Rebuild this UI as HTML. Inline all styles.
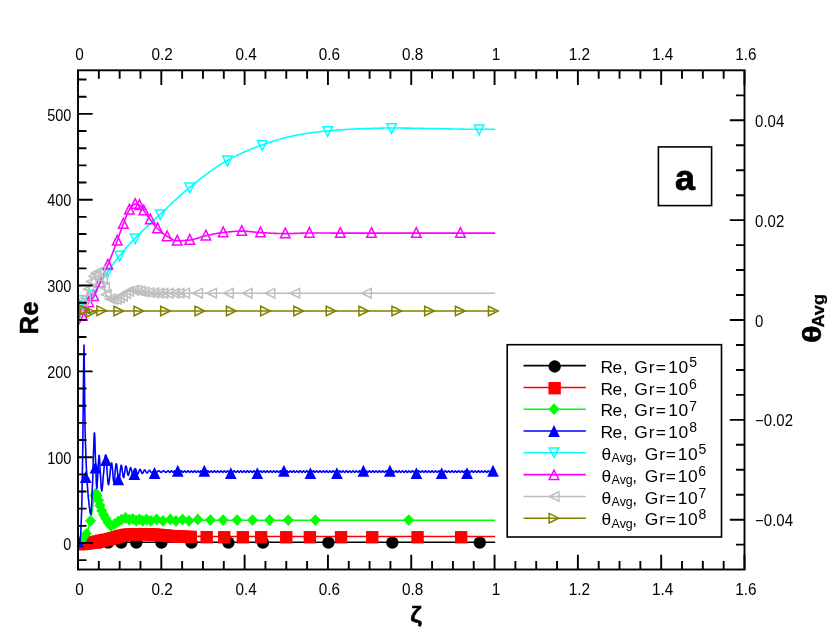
<!DOCTYPE html>
<html><head><meta charset="utf-8"><title>chart</title>
<style>html,body{margin:0;padding:0;background:#fff}svg{display:block;will-change:transform}text{font-family:"Liberation Sans",sans-serif}</style></head>
<body>
<svg width="830" height="641" viewBox="0 0 830 641">
<rect width="830" height="641" fill="#fff"/>
<clipPath id="cp"><rect x="78" y="70.3" width="666.5" height="499.2"/></clipPath>
<g clip-path="url(#cp)">
<path d="M78 542.3L495.2 542.3" fill="none" stroke="#000" stroke-width="1.6" stroke-linejoin="round"/>
<circle cx="99.5" cy="542.7" r="6.15" fill="#000"/><circle cx="108.1" cy="542.7" r="6.15" fill="#000"/><circle cx="121.2" cy="542.7" r="6.15" fill="#000"/><circle cx="136.3" cy="542.7" r="6.15" fill="#000"/><circle cx="161.4" cy="542.7" r="6.15" fill="#000"/><circle cx="191.5" cy="542.7" r="6.15" fill="#000"/><circle cx="228.4" cy="542.7" r="6.15" fill="#000"/><circle cx="262.9" cy="542.7" r="6.15" fill="#000"/><circle cx="328.4" cy="542.7" r="6.15" fill="#000"/><circle cx="392.3" cy="542.7" r="6.15" fill="#000"/><circle cx="479.8" cy="542.7" r="6.15" fill="#000"/>
<path d="M78 543.55L79 543.49L80 543.42L81 543.34L82 543.25L83 543.16L84 543.06L85 542.95L86 542.84L87 542.71L88 542.57L89 542.42L90 542.27L91 542.1L92 541.93L93 541.75L94 541.55L95 541.33L96 541.09L97 540.85L98 540.6L99 540.37L100 540.15L101 539.95L102 539.77L103 539.59L104 539.42L105 539.24L106 539.06L107 538.86L108 538.65L109 538.42L110 538.16L111 537.9L112 537.62L113 537.33L114 537.05L115 536.75L116 536.44L117 536.12L118 535.8L119 535.51L120 535.25L121 535.01L122 534.78L123 534.56L124 534.36L125 534.19L126 534.05L127 533.93L128 533.83L129 533.73L130 533.65L131 533.59L132 533.55L133 533.53L134 533.51L135 533.49L136 533.48L137 533.47L138 533.46L139 533.45L140 533.45L141 533.45L142 533.46L143 533.47L144 533.49L145 533.51L146 533.53L147 533.56L148 533.59L149 533.62L150 533.65L151 533.69L152 533.75L153 533.82L154 533.9L155 533.98L156 534.08L157 534.17L158 534.27L159 534.36L160 534.45L161 534.54L162 534.63L163 534.72L164 534.82L165 534.92L166 535.01L167 535.1L168 535.19L169 535.27L170 535.35L171 535.42L172 535.49L173 535.56L174 535.63L175 535.69L176 535.75L177 535.81L178 535.86L179 535.91L180 535.95L181 535.99L182 536.02L183 536.06L184 536.09L185 536.12L186 536.15L187 536.18L188 536.21L189 536.24L190 536.26L191 536.28L192 536.3L193 536.32L194 536.34L195 536.35L196 536.36L197 536.38L198 536.39L199 536.4L200 536.41L201 536.42L202 536.44L203 536.45L204 536.46L205 536.47L206 536.48L207 536.49L208 536.49L209 536.5L210 536.51L211 536.52L212 536.52L213 536.53L214 536.54L215 536.54L216 536.54L217 536.55L218 536.55L219 536.55L220 536.55L221 536.55L222 536.55L223 536.55L224 536.55L225 536.55L226 536.55L227 536.55L228 536.55L229 536.55L230 536.55L231 536.55L232 536.55L233 536.55L234 536.55L235 536.55L236 536.55L237 536.55L238 536.55L239 536.55L240 536.55L241 536.55L242 536.55L243 536.55L244 536.55L245 536.55L246 536.55L247 536.55L248 536.55L249 536.55L250 536.55L251 536.55L252 536.55L253 536.55L254 536.55L255 536.55L256 536.55L257 536.55L258 536.55L259 536.55L260 536.55L261 536.55L262 536.55L263 536.55L264 536.55L265 536.55L266 536.55L267 536.55L268 536.55L269 536.55L270 536.55L271 536.55L272 536.55L273 536.55L274 536.55L275 536.55L276 536.55L277 536.55L278 536.55L279 536.55L280 536.55L281 536.55L282 536.55L283 536.55L284 536.55L285 536.55L286 536.55L287 536.55L288 536.55L289 536.55L290 536.55L291 536.55L292 536.55L293 536.55L294 536.55L295 536.55L296 536.55L297 536.55L298 536.55L299 536.55L300 536.55L301 536.55L302 536.55L303 536.55L304 536.55L305 536.55L306 536.55L307 536.55L308 536.55L309 536.55L310 536.55L311 536.55L312 536.55L313 536.55L314 536.55L315 536.55L316 536.55L317 536.55L318 536.55L319 536.55L320 536.55L321 536.55L322 536.55L323 536.55L324 536.55L325 536.55L326 536.55L327 536.55L328 536.55L329 536.55L330 536.55L331 536.55L332 536.55L333 536.55L334 536.55L335 536.55L336 536.55L337 536.55L338 536.55L339 536.55L340 536.55L341 536.55L342 536.55L343 536.55L344 536.55L345 536.55L346 536.55L347 536.55L348 536.55L349 536.55L350 536.55L351 536.55L352 536.55L353 536.55L354 536.55L355 536.55L356 536.55L357 536.55L358 536.55L359 536.55L360 536.55L361 536.55L362 536.55L363 536.55L364 536.55L365 536.55L366 536.55L367 536.55L368 536.55L369 536.55L370 536.55L371 536.55L372 536.55L373 536.55L374 536.55L375 536.55L376 536.55L377 536.55L378 536.55L379 536.55L380 536.55L381 536.55L382 536.55L383 536.55L384 536.55L385 536.55L386 536.55L387 536.55L388 536.55L389 536.55L390 536.55L391 536.55L392 536.55L393 536.55L394 536.55L395 536.55L396 536.55L397 536.55L398 536.55L399 536.55L400 536.55L401 536.55L402 536.55L403 536.55L404 536.55L405 536.55L406 536.55L407 536.55L408 536.55L409 536.55L410 536.55L411 536.55L412 536.55L413 536.55L414 536.55L415 536.55L416 536.55L417 536.55L418 536.55L419 536.55L420 536.55L421 536.55L422 536.55L423 536.55L424 536.55L425 536.55L426 536.55L427 536.55L428 536.55L429 536.55L430 536.55L431 536.55L432 536.55L433 536.55L434 536.55L435 536.55L436 536.55L437 536.55L438 536.55L439 536.55L440 536.55L441 536.55L442 536.55L443 536.55L444 536.55L445 536.55L446 536.55L447 536.55L448 536.55L449 536.55L450 536.55L451 536.55L452 536.55L453 536.55L454 536.55L455 536.55L456 536.55L457 536.55L458 536.55L459 536.55L460 536.55L461 536.55L462 536.55L463 536.55L464 536.55L465 536.55L466 536.55L467 536.55L468 536.55L469 536.55L470 536.55L471 536.55L472 536.55L473 536.55L474 536.55L475 536.55L476 536.55L477 536.55L478 536.55L479 536.55L480 536.55L481 536.55L482 536.55L483 536.55L484 536.55L485 536.55L486 536.55L487 536.55L488 536.55L489 536.55L490 536.55L491 536.55L492 536.55L493 536.55L494 536.55L495 536.55L495.2 536.55" fill="none" stroke="#f00" stroke-width="1.6" stroke-linejoin="round"/>
<rect x="72.95" y="538.02" width="12.4" height="12.4" fill="#f00"/><rect x="76.05" y="537.79" width="12.4" height="12.4" fill="#f00"/><rect x="79.15" y="537.48" width="12.4" height="12.4" fill="#f00"/><rect x="82.25" y="537.1" width="12.4" height="12.4" fill="#f00"/><rect x="85.35" y="536.62" width="12.4" height="12.4" fill="#f00"/><rect x="88.45" y="536.05" width="12.4" height="12.4" fill="#f00"/><rect x="91.55" y="535.32" width="12.4" height="12.4" fill="#f00"/><rect x="94.65" y="534.61" width="12.4" height="12.4" fill="#f00"/><rect x="97.75" y="534.04" width="12.4" height="12.4" fill="#f00"/><rect x="100.85" y="533.48" width="12.4" height="12.4" fill="#f00"/><rect x="103.95" y="532.79" width="12.4" height="12.4" fill="#f00"/><rect x="107.05" y="531.95" width="12.4" height="12.4" fill="#f00"/><rect x="110.15" y="531.03" width="12.4" height="12.4" fill="#f00"/><rect x="113.25" y="530.07" width="12.4" height="12.4" fill="#f00"/><rect x="116.35" y="529.3" width="12.4" height="12.4" fill="#f00"/><rect x="119.45" y="528.69" width="12.4" height="12.4" fill="#f00"/><rect x="122.55" y="528.32" width="12.4" height="12.4" fill="#f00"/><rect x="125.65" y="528.08" width="12.4" height="12.4" fill="#f00"/><rect x="128.75" y="528" width="12.4" height="12.4" fill="#f00"/><rect x="131.85" y="527.96" width="12.4" height="12.4" fill="#f00"/><rect x="134.95" y="527.95" width="12.4" height="12.4" fill="#f00"/><rect x="138.05" y="527.98" width="12.4" height="12.4" fill="#f00"/><rect x="141.15" y="528.05" width="12.4" height="12.4" fill="#f00"/><rect x="144.25" y="528.14" width="12.4" height="12.4" fill="#f00"/><rect x="147.35" y="528.31" width="12.4" height="12.4" fill="#f00"/><rect x="150.45" y="528.58" width="12.4" height="12.4" fill="#f00"/><rect x="153.55" y="528.87" width="12.4" height="12.4" fill="#f00"/><rect x="156.65" y="529.15" width="12.4" height="12.4" fill="#f00"/><rect x="159.75" y="529.44" width="12.4" height="12.4" fill="#f00"/><rect x="162.85" y="529.73" width="12.4" height="12.4" fill="#f00"/><rect x="165.95" y="529.96" width="12.4" height="12.4" fill="#f00"/><rect x="169.05" y="530.17" width="12.4" height="12.4" fill="#f00"/><rect x="172.15" y="530.35" width="12.4" height="12.4" fill="#f00"/><rect x="175.25" y="530.48" width="12.4" height="12.4" fill="#f00"/><rect x="178.35" y="530.59" width="12.4" height="12.4" fill="#f00"/><rect x="181.45" y="530.68" width="12.4" height="12.4" fill="#f00"/><rect x="184.55" y="530.76" width="12.4" height="12.4" fill="#f00"/><rect x="200.45" y="530.98" width="12.4" height="12.4" fill="#f00"/><rect x="218.05" y="531.05" width="12.4" height="12.4" fill="#f00"/><rect x="236.65" y="531.05" width="12.4" height="12.4" fill="#f00"/><rect x="254.95" y="531.05" width="12.4" height="12.4" fill="#f00"/><rect x="280.05" y="531.05" width="12.4" height="12.4" fill="#f00"/><rect x="303.65" y="531.05" width="12.4" height="12.4" fill="#f00"/><rect x="334.85" y="531.05" width="12.4" height="12.4" fill="#f00"/><rect x="366.05" y="531.05" width="12.4" height="12.4" fill="#f00"/><rect x="411.35" y="531.05" width="12.4" height="12.4" fill="#f00"/><rect x="454.95" y="531.05" width="12.4" height="12.4" fill="#f00"/>
<path d="M78 542.6L78.5 542.42L79 542.19L79.5 541.91L80 541.6L80.5 541.23L81 540.79L81.5 540.28L82 539.74L82.5 539.17L83 538.6L83.5 538.04L84 537.48L84.5 536.91L85 536.29L85.5 535.6L86 534.81L86.5 533.9L87 532.67L87.5 531.07L88 529.31L88.5 527.6L89 526.05L89.5 524.54L90 522.88L90.5 520.9L91 518.22L91.5 514.95L92 511.6L92.5 508.09L93 504.5L93.5 501.6L94 499.25L94.5 496.99L95 495.09L95.5 493.84L96 493.52L96.5 494.12L97 495.28L97.5 496.6L98 498.2L98.5 500.17L99 502.1L99.5 503.9L100 505.7L100.5 507.39L101 508.88L101.5 510.2L102 511.41L102.5 512.53L103 513.6L103.5 514.62L104 515.6L104.5 516.54L105 517.43L105.5 518.28L106 519.1L106.5 519.94L107 520.84L107.5 521.76L108 522.68L108.5 523.55L109 524.34L109.5 525.01L110 525.54L110.5 525.88L111 526L111.5 525.93L112 525.76L112.5 525.51L113 525.21L113.5 524.9L114 524.6L114.5 524.3L115 523.97L115.5 523.61L116 523.23L116.5 522.85L117 522.48L117.5 522.13L118 521.8L118.5 521.49L119 521.17L119.5 520.86L120 520.55L120.5 520.27L121 520.01L121.5 519.78L122 519.6L122.5 519.44L123 519.28L123.5 519.13L124 519L124.5 518.89L125 518.82L125.5 518.8L126 518.81L126.5 518.83L127 518.87L127.5 518.91L128 518.97L128.5 519.03L129 519.09L129.5 519.14L130 519.2L130.5 519.26L131 519.33L131.5 519.4L132 519.48L132.5 519.57L133 519.65L133.5 519.73L134 519.8L134.5 519.87L135 519.93L135.5 519.97L136 520L136.5 520.02L137 520.04L137.5 520.06L138 520.07L138.5 520.09L139 520.11L139.5 520.12L140 520.13L140.5 520.15L141 520.16L141.5 520.17L142 520.17L142.5 520.18L143 520.19L143.5 520.19L144 520.2L144.5 520.2L145 520.2L145.5 520.2L146 520.2L146.5 520.2L147 520.2L147.5 520.2L148 520.2L148.5 520.2L149 520.2L149.5 520.2L150 520.2L150.5 520.2L151 520.2L151.5 520.2L152 520.2L152.5 520.2L153 520.2L153.5 520.2L154 520.2L154.5 520.2L155 520.2L155.5 520.2L156 520.2L156.5 520.2L157 520.2L157.5 520.2L158 520.2L158.5 520.2L159 520.2L159.5 520.2L160 520.2L160.5 520.2L161 520.2L161.5 520.2L162 520.2L162.5 520.2L163 520.2L163.5 520.2L164 520.2L164.5 520.2L165 520.2L165.5 520.2L166 520.2L166.5 520.2L167 520.2L167.5 520.2L168 520.2L168.5 520.2L169 520.2L169.5 520.2L170 520.2L170.5 520.2L171 520.2L171.5 520.2L172 520.2L172.5 520.2L173 520.2L173.5 520.2L174 520.2L174.5 520.2L175 520.2L175.5 520.2L176 520.2L176.5 520.2L177 520.2L177.5 520.2L178 520.2L178.5 520.2L179 520.2L179.5 520.2L180 520.2L180.5 520.2L181 520.2L181.5 520.2L182 520.2L182.5 520.2L183 520.2L183.5 520.2L184 520.2L184.5 520.2L185 520.2L185.5 520.2L186 520.2L186.5 520.2L187 520.2L187.5 520.2L188 520.2L188.5 520.2L189 520.2L189.5 520.2L190 520.2L190.5 520.2L191 520.2L191.5 520.2L192 520.2L192.5 520.2L193 520.2L193.5 520.2L194 520.2L194.5 520.2L195 520.2L195.5 520.2L196 520.2L196.5 520.2L197 520.2L197.5 520.2L198 520.2L198.5 520.2L199 520.2L199.5 520.2L200 520.2L200.5 520.2L201 520.2L201.5 520.2L202 520.2L202.5 520.2L203 520.2L203.5 520.2L204 520.2L204.5 520.2L205 520.2L205.5 520.2L206 520.2L206.5 520.2L207 520.2L207.5 520.2L208 520.2L208.5 520.2L209 520.2L209.5 520.2L210 520.2L210.5 520.2L211 520.2L211.5 520.2L212 520.2L212.5 520.2L213 520.2L213.5 520.2L214 520.2L214.5 520.2L215 520.2L215.5 520.2L216 520.2L216.5 520.2L217 520.2L217.5 520.2L218 520.2L218.5 520.2L219 520.2L219.5 520.2L220 520.2L220.5 520.2L221 520.2L221.5 520.2L222 520.2L222.5 520.2L223 520.2L223.5 520.2L224 520.2L224.5 520.2L225 520.2L225.5 520.2L226 520.2L226.5 520.2L227 520.2L227.5 520.2L228 520.2L228.5 520.2L229 520.2L229.5 520.2L230 520.2L230.5 520.2L231 520.2L231.5 520.2L232 520.2L232.5 520.2L233 520.2L233.5 520.2L234 520.2L234.5 520.2L235 520.2L235.5 520.2L236 520.2L236.5 520.2L237 520.2L237.5 520.2L238 520.2L238.5 520.2L239 520.2L239.5 520.2L240 520.2L240.5 520.2L241 520.2L241.5 520.2L242 520.2L242.5 520.2L243 520.2L243.5 520.2L244 520.2L244.5 520.2L245 520.2L245.5 520.2L246 520.2L246.5 520.2L247 520.2L247.5 520.2L248 520.2L248.5 520.2L249 520.2L249.5 520.2L250 520.2L250.5 520.2L251 520.2L251.5 520.2L252 520.2L252.5 520.2L253 520.2L253.5 520.2L254 520.2L254.5 520.2L255 520.2L255.5 520.2L256 520.2L256.5 520.2L257 520.2L257.5 520.2L258 520.2L258.5 520.2L259 520.2L259.5 520.2L260 520.2L260.5 520.2L261 520.2L261.5 520.2L262 520.2L262.5 520.2L263 520.2L263.5 520.2L264 520.2L264.5 520.2L265 520.2L265.5 520.2L266 520.2L266.5 520.2L267 520.2L267.5 520.2L268 520.2L268.5 520.2L269 520.2L269.5 520.2L270 520.2L270.5 520.2L271 520.2L271.5 520.2L272 520.2L272.5 520.2L273 520.2L273.5 520.2L274 520.2L274.5 520.2L275 520.2L275.5 520.2L276 520.2L276.5 520.2L277 520.2L277.5 520.2L278 520.2L278.5 520.2L279 520.2L279.5 520.2L280 520.2L280.5 520.2L281 520.2L281.5 520.2L282 520.2L282.5 520.2L283 520.2L283.5 520.2L284 520.2L284.5 520.2L285 520.2L285.5 520.2L286 520.2L286.5 520.2L287 520.2L287.5 520.2L288 520.2L288.5 520.2L289 520.2L289.5 520.2L290 520.2L290.5 520.2L291 520.2L291.5 520.2L292 520.2L292.5 520.2L293 520.2L293.5 520.2L294 520.2L294.5 520.2L295 520.2L295.5 520.2L296 520.2L296.5 520.2L297 520.2L297.5 520.2L298 520.2L298.5 520.2L299 520.2L299.5 520.2L300 520.2L300.5 520.2L301 520.2L301.5 520.2L302 520.2L302.5 520.2L303 520.2L303.5 520.2L304 520.2L304.5 520.2L305 520.2L305.5 520.2L306 520.2L306.5 520.2L307 520.2L307.5 520.2L308 520.2L308.5 520.2L309 520.2L309.5 520.2L310 520.2L310.5 520.2L311 520.2L311.5 520.2L312 520.2L312.5 520.2L313 520.2L313.5 520.2L314 520.2L314.5 520.2L315 520.2L315.5 520.2L316 520.2L316.5 520.2L317 520.2L317.5 520.2L318 520.2L318.5 520.2L319 520.2L319.5 520.2L320 520.2L320.5 520.2L321 520.2L321.5 520.2L322 520.2L322.5 520.2L323 520.2L323.5 520.2L324 520.2L324.5 520.2L325 520.2L325.5 520.2L326 520.2L326.5 520.2L327 520.2L327.5 520.2L328 520.2L328.5 520.2L329 520.2L329.5 520.2L330 520.2L330.5 520.2L331 520.2L331.5 520.2L332 520.2L332.5 520.2L333 520.2L333.5 520.2L334 520.2L334.5 520.2L335 520.2L335.5 520.2L336 520.2L336.5 520.2L337 520.2L337.5 520.2L338 520.2L338.5 520.2L339 520.2L339.5 520.2L340 520.2L340.5 520.2L341 520.2L341.5 520.2L342 520.2L342.5 520.2L343 520.2L343.5 520.2L344 520.2L344.5 520.2L345 520.2L345.5 520.2L346 520.2L346.5 520.2L347 520.2L347.5 520.2L348 520.2L348.5 520.2L349 520.2L349.5 520.2L350 520.2L350.5 520.2L351 520.2L351.5 520.2L352 520.2L352.5 520.2L353 520.2L353.5 520.2L354 520.2L354.5 520.2L355 520.2L355.5 520.2L356 520.2L356.5 520.2L357 520.2L357.5 520.2L358 520.2L358.5 520.2L359 520.2L359.5 520.2L360 520.2L360.5 520.2L361 520.2L361.5 520.2L362 520.2L362.5 520.2L363 520.2L363.5 520.2L364 520.2L364.5 520.2L365 520.2L365.5 520.2L366 520.2L366.5 520.2L367 520.2L367.5 520.2L368 520.2L368.5 520.2L369 520.2L369.5 520.2L370 520.2L370.5 520.2L371 520.2L371.5 520.2L372 520.2L372.5 520.2L373 520.2L373.5 520.2L374 520.2L374.5 520.2L375 520.2L375.5 520.2L376 520.2L376.5 520.2L377 520.2L377.5 520.2L378 520.2L378.5 520.2L379 520.2L379.5 520.2L380 520.2L380.5 520.2L381 520.2L381.5 520.2L382 520.2L382.5 520.2L383 520.2L383.5 520.2L384 520.2L384.5 520.2L385 520.2L385.5 520.2L386 520.2L386.5 520.2L387 520.2L387.5 520.2L388 520.2L388.5 520.2L389 520.2L389.5 520.2L390 520.2L390.5 520.2L391 520.2L391.5 520.2L392 520.2L392.5 520.2L393 520.2L393.5 520.2L394 520.2L394.5 520.2L395 520.2L395.5 520.2L396 520.2L396.5 520.2L397 520.2L397.5 520.2L398 520.2L398.5 520.2L399 520.2L399.5 520.2L400 520.2L400.5 520.2L401 520.2L401.5 520.2L402 520.2L402.5 520.2L403 520.2L403.5 520.2L404 520.2L404.5 520.2L405 520.2L405.5 520.2L406 520.2L406.5 520.2L407 520.2L407.5 520.2L408 520.2L408.5 520.2L409 520.2L409.5 520.2L410 520.2L410.5 520.2L411 520.2L411.5 520.2L412 520.2L412.5 520.2L413 520.2L413.5 520.2L414 520.2L414.5 520.2L415 520.2L415.5 520.2L416 520.2L416.5 520.2L417 520.2L417.5 520.2L418 520.2L418.5 520.2L419 520.2L419.5 520.2L420 520.2L420.5 520.2L421 520.2L421.5 520.2L422 520.2L422.5 520.2L423 520.2L423.5 520.2L424 520.2L424.5 520.2L425 520.2L425.5 520.2L426 520.2L426.5 520.2L427 520.2L427.5 520.2L428 520.2L428.5 520.2L429 520.2L429.5 520.2L430 520.2L430.5 520.2L431 520.2L431.5 520.2L432 520.2L432.5 520.2L433 520.2L433.5 520.2L434 520.2L434.5 520.2L435 520.2L435.5 520.2L436 520.2L436.5 520.2L437 520.2L437.5 520.2L438 520.2L438.5 520.2L439 520.2L439.5 520.2L440 520.2L440.5 520.2L441 520.2L441.5 520.2L442 520.2L442.5 520.2L443 520.2L443.5 520.2L444 520.2L444.5 520.2L445 520.2L445.5 520.2L446 520.2L446.5 520.2L447 520.2L447.5 520.2L448 520.2L448.5 520.2L449 520.2L449.5 520.2L450 520.2L450.5 520.2L451 520.2L451.5 520.2L452 520.2L452.5 520.2L453 520.2L453.5 520.2L454 520.2L454.5 520.2L455 520.2L455.5 520.2L456 520.2L456.5 520.2L457 520.2L457.5 520.2L458 520.2L458.5 520.2L459 520.2L459.5 520.2L460 520.2L460.5 520.2L461 520.2L461.5 520.2L462 520.2L462.5 520.2L463 520.2L463.5 520.2L464 520.2L464.5 520.2L465 520.2L465.5 520.2L466 520.2L466.5 520.2L467 520.2L467.5 520.2L468 520.2L468.5 520.2L469 520.2L469.5 520.2L470 520.2L470.5 520.2L471 520.2L471.5 520.2L472 520.2L472.5 520.2L473 520.2L473.5 520.2L474 520.2L474.5 520.2L475 520.2L475.5 520.2L476 520.2L476.5 520.2L477 520.2L477.5 520.2L478 520.2L478.5 520.2L479 520.2L479.5 520.2L480 520.2L480.5 520.2L481 520.2L481.5 520.2L482 520.2L482.5 520.2L483 520.2L483.5 520.2L484 520.2L484.5 520.2L485 520.2L485.5 520.2L486 520.2L486.5 520.2L487 520.2L487.5 520.2L488 520.2L488.5 520.2L489 520.2L489.5 520.2L490 520.2L490.5 520.2L491 520.2L491.5 520.2L492 520.2L492.5 520.2L493 520.2L493.5 520.2L494 520.2L494.5 520.2L495 520.2L495.2 520.2" fill="none" stroke="#0f0" stroke-width="1.6" stroke-linejoin="round"/>
<path d="M81.5 534.28 l5.5 5.9 l-5.5 5.9 l-5.5 -5.9z" fill="#0f0"/><path d="M86.5 527.9 l5.5 5.9 l-5.5 5.9 l-5.5 -5.9z" fill="#0f0"/><path d="M90.5 514.9 l5.5 5.9 l-5.5 5.9 l-5.5 -5.9z" fill="#0f0"/><path d="M94.8 489.79 l5.5 5.9 l-5.5 5.9 l-5.5 -5.9z" fill="#0f0"/><path d="M95.9 487.5 l5.5 5.9 l-5.5 5.9 l-5.5 -5.9z" fill="#0f0"/><path d="M97.2 489.81 l5.5 5.9 l-5.5 5.9 l-5.5 -5.9z" fill="#0f0"/><path d="M98.6 494.57 l5.5 5.9 l-5.5 5.9 l-5.5 -5.9z" fill="#0f0"/><path d="M100 499.7 l5.5 5.9 l-5.5 5.9 l-5.5 -5.9z" fill="#0f0"/><path d="M101.8 504.94 l5.5 5.9 l-5.5 5.9 l-5.5 -5.9z" fill="#0f0"/><path d="M103.6 508.82 l5.5 5.9 l-5.5 5.9 l-5.5 -5.9z" fill="#0f0"/><path d="M105.6 512.45 l5.5 5.9 l-5.5 5.9 l-5.5 -5.9z" fill="#0f0"/><path d="M108 516.68 l5.5 5.9 l-5.5 5.9 l-5.5 -5.9z" fill="#0f0"/><path d="M111 520 l5.5 5.9 l-5.5 5.9 l-5.5 -5.9z" fill="#0f0"/><path d="M114.5 518.3 l5.5 5.9 l-5.5 5.9 l-5.5 -5.9z" fill="#0f0"/><path d="M118 515.8 l5.5 5.9 l-5.5 5.9 l-5.5 -5.9z" fill="#0f0"/><path d="M121.5 513.78 l5.5 5.9 l-5.5 5.9 l-5.5 -5.9z" fill="#0f0"/><path d="M125.5 512.1 l5.5 5.9 l-5.5 5.9 l-5.5 -5.9z" fill="#0f0"/><path d="M129.2 513.81 l5.5 5.9 l-5.5 5.9 l-5.5 -5.9z" fill="#0f0"/><path d="M132.8 512.92 l5.5 5.9 l-5.5 5.9 l-5.5 -5.9z" fill="#0f0"/><path d="M136.2 514.71 l5.5 5.9 l-5.5 5.9 l-5.5 -5.9z" fill="#0f0"/><path d="M139.4 513.42 l5.5 5.9 l-5.5 5.9 l-5.5 -5.9z" fill="#0f0"/><path d="M142.8 514.89 l5.5 5.9 l-5.5 5.9 l-5.5 -5.9z" fill="#0f0"/><path d="M146.5 513.5 l5.5 5.9 l-5.5 5.9 l-5.5 -5.9z" fill="#0f0"/><path d="M150.6 514.9 l5.5 5.9 l-5.5 5.9 l-5.5 -5.9z" fill="#0f0"/><path d="M156.6 513.5 l5.5 5.9 l-5.5 5.9 l-5.5 -5.9z" fill="#0f0"/><path d="M163 514.9 l5.5 5.9 l-5.5 5.9 l-5.5 -5.9z" fill="#0f0"/><path d="M170.3 513.5 l5.5 5.9 l-5.5 5.9 l-5.5 -5.9z" fill="#0f0"/><path d="M176 514.9 l5.5 5.9 l-5.5 5.9 l-5.5 -5.9z" fill="#0f0"/><path d="M182.6 513.5 l5.5 5.9 l-5.5 5.9 l-5.5 -5.9z" fill="#0f0"/><path d="M189 514.9 l5.5 5.9 l-5.5 5.9 l-5.5 -5.9z" fill="#0f0"/><path d="M197.8 513.5 l5.5 5.9 l-5.5 5.9 l-5.5 -5.9z" fill="#0f0"/><path d="M210.4 514.2 l5.5 5.9 l-5.5 5.9 l-5.5 -5.9z" fill="#0f0"/><path d="M223.1 514.2 l5.5 5.9 l-5.5 5.9 l-5.5 -5.9z" fill="#0f0"/><path d="M237.1 514.2 l5.5 5.9 l-5.5 5.9 l-5.5 -5.9z" fill="#0f0"/><path d="M252.5 514.2 l5.5 5.9 l-5.5 5.9 l-5.5 -5.9z" fill="#0f0"/><path d="M269.6 514.2 l5.5 5.9 l-5.5 5.9 l-5.5 -5.9z" fill="#0f0"/><path d="M288.2 514.2 l5.5 5.9 l-5.5 5.9 l-5.5 -5.9z" fill="#0f0"/><path d="M315.4 514.2 l5.5 5.9 l-5.5 5.9 l-5.5 -5.9z" fill="#0f0"/><path d="M408.7 514.2 l5.5 5.9 l-5.5 5.9 l-5.5 -5.9z" fill="#0f0"/>
<path d="M78 543L78.2 542.94L78.5 542.76L78.8 542.46L79 542.04L79.2 541.5L79.5 540.85L79.8 540.08L80 539.2L80.2 538.21L80.5 536.45L80.8 532.82L81 527.78L81.2 521.82L81.5 515.17L81.8 506.13L82 494.92L82.2 481.77L82.5 465.46L82.8 447L83 427.68L83.2 406.51L83.5 379.32L83.8 355.32L84 345L84.2 356.74L84.5 382.8L84.8 409.44L85 424.67L85.2 435.23L85.5 444.34L85.8 452.19L86 458.96L86.2 464.83L86.5 470.01L86.8 474.78L87 479.22L87.2 483.33L87.5 487.11L87.8 490.58L88 493.73L88.2 496.59L88.5 499.15L88.8 501.44L89 503.68L89.2 505.91L89.5 508.04L89.8 510.01L90 511.7L90.2 513.06L90.5 513.98L90.8 514.39L91 513.76L91.2 511.33L91.5 507.45L91.8 502.46L92 496.71L92.2 490.57L92.5 484.4L92.8 477.98L93 469.8L93.2 460.95L93.5 452.77L93.8 445.83L94 438.67L94.2 433.53L94.5 432.9L94.8 436.88L95 443.76L95.2 451.85L95.5 459.46L95.8 465.81L96 473.01L96.2 480.08L96.5 485.67L96.8 488.41L97 487.53L97.2 484.17L97.5 479.42L97.8 474.34L98 470L98.2 465.87L98.5 461.37L98.8 457.49L99 455.23L99.2 455.49L99.5 458.11L99.8 462.26L100 467.06L100.2 471.68L100.5 475.46L100.8 479.61L101 483.92L101.2 487.71L101.5 490.28L101.8 490.98L102 490.2L102.2 488.49L102.5 486.08L102.8 483.2L103 480.08L103.2 476.94L103.5 474.02L103.8 471.53L104 468.9L104.2 465.99L104.5 463.03L104.8 460.23L105 457.82L105.2 456.03L105.5 455.09L105.8 455.33L106 457.11L106.2 459.98L106.5 463.44L106.8 466.95L107 470L107.2 473.03L107.5 476.48L107.8 479.85L108 482.65L108.2 484.38L108.5 484.64L108.8 483.98L109 482.7L109.2 480.92L109.5 478.77L109.8 476.37L110 473.85L110.2 471.33L110.5 468.93L110.8 466.78L111 465L111.2 463.72L111.5 463.06L111.8 463.24L112 464.56L112.2 466.77L112.5 469.59L112.8 472.7L113 475.81L113.2 478.63L113.5 480.84L113.8 482.16L114 482.3L114.2 481.23L114.5 479.25L114.8 476.63L115 473.66L115.2 470.64L115.5 467.84L115.8 465.57L116 464.1L116.2 463.72L116.5 464.29L116.8 465.54L117 467.31L117.2 469.45L117.5 471.78L117.8 474.14L118 476.37L118.2 478.3L118.5 479.79L118.8 480.65L119 480.71L119.2 479.83L119.5 478.17L119.8 475.98L120 473.51L120.2 470.99L120.5 468.66L120.8 466.76L121 465.53L121.2 465.22L121.5 465.74L121.8 466.87L122 468.44L122.2 470.28L122.5 472.23L122.8 474.11L123 475.75L123.2 476.98L123.5 477.64L123.8 477.56L124 476.76L124.2 475.42L124.5 473.73L124.8 471.85L125 469.97L125.2 468.28L125.5 466.94L125.8 466.14L126 466.05L126.2 466.54L126.5 467.47L126.8 468.7L127 470.11L127.2 471.58L127.5 472.96L127.8 474.15L128 475L128.2 475.39L128.5 475.23L128.8 474.62L129 473.67L129.2 472.51L129.5 471.25L129.8 470.01L130 468.92L130.2 468.09L130.5 467.64L130.8 467.69L131 468.17L131.2 468.99L131.5 470.04L131.8 471.2L132 472.38L132.2 473.45L132.5 474.33L132.8 474.89L133 475.03L133.2 474.75L133.5 474.15L133.8 473.32L134 472.35L134.2 471.33L134.5 470.36L134.8 469.53L135 468.93L135.2 468.65L135.5 468.75L135.8 469.17L136 469.82L136.2 470.61L136.5 471.48L136.8 472.34L137 473.11L137.2 473.72L137.5 474.08L137.8 474.12L138 473.86L138.2 473.38L138.5 472.73L138.8 472L139 471.25L139.2 470.55L139.5 469.96L139.8 469.56L140 469.41L140.2 469.54L140.5 469.89L140.8 470.39L141 471L141.2 471.64L141.5 472.27L141.8 472.82L142 473.24L142.2 473.46L142.5 473.44L142.8 473.21L143 472.83L143.2 472.33L143.5 471.79L143.8 471.24L144 470.73L144.2 470.32L144.5 470.05L144.8 469.99L145 470.12L145.2 470.4L145.5 470.79L145.8 471.25L146 471.73L146.2 472.18L146.5 472.57L146.8 472.86L147 472.99L147.2 472.94L147.5 472.74L147.8 472.44L148 472.06L148.2 471.66L148.5 471.25L148.8 470.89L149 470.6L149.2 470.43L149.5 470.41L149.8 470.54L150 470.76L150.2 471.07L150.5 471.41L150.8 471.76L151 472.09L151.2 472.37L151.5 472.56L151.8 472.63L152 472.57L152.2 472.41L152.5 472.17L152.8 471.88L153 471.58L153.2 471.29L153.5 471.03L153.8 470.83L154 470.72L154.2 470.73L154.5 470.84L154.8 471.02L155 471.25L155.2 471.51L155.5 471.77L155.8 472.01L156 472.2L156.2 472.33L156.5 472.36L156.8 472.29L157 472.15L157.2 471.96L157.5 471.73L157.8 471.49L158 471.26L158.2 471.06L158.5 470.92L158.8 470.85L159 470.88L159.2 470.99L159.5 471.17L159.8 471.39L160 471.62L160.2 471.86L160.5 472.07L160.8 472.23L161 472.33L161.2 472.34L161.5 472.26L161.8 472.11L162 471.9L162.2 471.67L162.5 471.43L162.8 471.21L163 471.02L163.2 470.9L163.5 470.85L163.8 470.9L164 471.02L164.2 471.21L164.5 471.43L164.8 471.67L165 471.9L165.2 472.11L165.5 472.26L165.8 472.34L166 472.33L166.2 472.23L166.5 472.07L166.8 471.86L167 471.62L167.2 471.39L167.5 471.17L167.8 470.99L168 470.88L168.2 470.85L168.5 470.98L168.8 471.24L169 471.57L169.2 471.9L169.5 472.18L169.8 472.33L170 472.32L170.2 472.13L170.5 471.84L170.8 471.5L171 471.18L171.2 470.94L171.5 470.85L171.8 470.94L172 471.18L172.2 471.5L172.5 471.84L172.8 472.13L173 472.32L173.2 472.33L173.5 472.18L173.8 471.9L174 471.57L174.2 471.24L174.5 470.98L174.8 470.85L175 470.91L175.2 471.12L175.5 471.43L175.8 471.77L176 472.08L176.2 472.29L176.5 472.35L176.8 472.22L177 471.96L177.2 471.63L177.5 471.3L177.8 471.02L178 470.87L178.2 470.88L178.5 471.07L178.8 471.36L179 471.7L179.2 472.02L179.5 472.26L179.8 472.35L180 472.26L180.2 472.02L180.5 471.7L180.8 471.36L181 471.07L181.2 470.88L181.5 470.87L181.8 471.02L182 471.3L182.2 471.63L182.5 471.96L182.8 472.22L183 472.35L183.2 472.29L183.5 472.08L183.8 471.77L184 471.43L184.2 471.12L184.5 470.91L184.8 470.85L185 470.98L185.2 471.24L185.5 471.57L185.8 471.9L186 472.18L186.2 472.33L186.5 472.32L186.8 472.13L187 471.84L187.2 471.5L187.5 471.18L187.8 470.94L188 470.85L188.2 470.94L188.5 471.18L188.8 471.5L189 471.84L189.2 472.13L189.5 472.32L189.8 472.33L190 472.18L190.2 471.9L190.5 471.57L190.8 471.24L191 470.98L191.2 470.85L191.5 470.91L191.8 471.12L192 471.43L192.2 471.77L192.5 472.08L192.8 472.29L193 472.35L193.2 472.22L193.5 471.96L193.8 471.63L194 471.3L194.2 471.02L194.5 470.87L194.8 470.88L195 471.07L195.2 471.36L195.5 471.7L195.8 472.02L196 472.26L196.2 472.35L196.5 472.26L196.8 472.02L197 471.7L197.2 471.36L197.5 471.07L197.8 470.88L198 470.87L198.2 471.02L198.5 471.3L198.8 471.63L199 471.96L199.2 472.22L199.5 472.35L199.8 472.29L200 472.08L200.2 471.77L200.5 471.43L200.8 471.12L201 470.91L201.2 470.85L201.5 470.98L201.8 471.24L202 471.57L202.2 471.9L202.5 472.18L202.8 472.33L203 472.32L203.2 472.13L203.5 471.84L203.8 471.5L204 471.18L204.2 470.94L204.5 470.85L204.8 470.94L205 471.18L205.2 471.5L205.5 471.84L205.8 472.13L206 472.32L206.2 472.33L206.5 472.18L206.8 471.9L207 471.57L207.2 471.24L207.5 470.98L207.8 470.85L208 470.91L208.2 471.12L208.5 471.43L208.8 471.77L209 472.08L209.2 472.29L209.5 472.35L209.8 472.22L210 471.96L210.2 471.63L210.5 471.3L210.8 471.02L211 470.87L211.2 470.88L211.5 471.07L211.8 471.36L212 471.7L212.2 472.02L212.5 472.26L212.8 472.35L213 472.26L213.2 472.02L213.5 471.7L213.8 471.36L214 471.07L214.2 470.88L214.5 470.87L214.8 471.02L215 471.3L215.2 471.63L215.5 471.96L215.8 472.22L216 472.35L216.2 472.29L216.5 472.08L216.8 471.77L217 471.43L217.2 471.12L217.5 470.91L217.8 470.85L218 470.98L218.2 471.24L218.5 471.57L218.8 471.9L219 472.18L219.2 472.33L219.5 472.32L219.8 472.13L220 471.84L220.2 471.5L220.5 471.18L220.8 470.94L221 470.85L221.2 470.94L221.5 471.18L221.8 471.5L222 471.84L222.2 472.13L222.5 472.32L222.8 472.33L223 472.18L223.2 471.9L223.5 471.57L223.8 471.24L224 470.98L224.2 470.85L224.5 470.91L224.8 471.12L225 471.43L225.2 471.77L225.5 472.08L225.8 472.29L226 472.35L226.2 472.22L226.5 471.96L226.8 471.63L227 471.3L227.2 471.02L227.5 470.87L227.8 470.88L228 471.07L228.2 471.36L228.5 471.7L228.8 472.02L229 472.26L229.2 472.35L229.5 472.26L229.8 472.02L230 471.7L230.2 471.36L230.5 471.07L230.8 470.88L231 470.87L231.2 471.02L231.5 471.3L231.8 471.63L232 471.96L232.2 472.22L232.5 472.35L232.8 472.29L233 472.08L233.2 471.77L233.5 471.43L233.8 471.12L234 470.91L234.2 470.85L234.5 470.98L234.8 471.24L235 471.57L235.2 471.9L235.5 472.18L235.8 472.33L236 472.32L236.2 472.13L236.5 471.84L236.8 471.5L237 471.18L237.2 470.94L237.5 470.85L237.8 470.94L238 471.18L238.2 471.5L238.5 471.84L238.8 472.13L239 472.32L239.2 472.33L239.5 472.18L239.8 471.9L240 471.57L240.2 471.24L240.5 470.98L240.8 470.85L241 470.91L241.2 471.12L241.5 471.43L241.8 471.77L242 472.08L242.2 472.29L242.5 472.35L242.8 472.22L243 471.96L243.2 471.63L243.5 471.3L243.8 471.02L244 470.87L244.2 470.88L244.5 471.07L244.8 471.36L245 471.7L245.2 472.02L245.5 472.26L245.8 472.35L246 472.26L246.2 472.02L246.5 471.7L246.8 471.36L247 471.07L247.2 470.88L247.5 470.87L247.8 471.02L248 471.3L248.2 471.63L248.5 471.96L248.8 472.22L249 472.35L249.2 472.29L249.5 472.08L249.8 471.77L250 471.43L250.2 471.12L250.5 470.91L250.8 470.85L251 470.98L251.2 471.24L251.5 471.57L251.8 471.9L252 472.18L252.2 472.33L252.5 472.32L252.8 472.13L253 471.84L253.2 471.5L253.5 471.18L253.8 470.94L254 470.85L254.2 470.94L254.5 471.18L254.8 471.5L255 471.84L255.2 472.13L255.5 472.32L255.8 472.33L256 472.18L256.2 471.9L256.5 471.57L256.8 471.24L257 470.98L257.2 470.85L257.5 470.91L257.8 471.12L258 471.43L258.2 471.77L258.5 472.08L258.8 472.29L259 472.35L259.2 472.22L259.5 471.96L259.8 471.63L260 471.3L260.2 471.02L260.5 470.87L260.8 470.88L261 471.07L261.2 471.36L261.5 471.7L261.8 472.02L262 472.26L262.2 472.35L262.5 472.26L262.8 472.02L263 471.7L263.2 471.36L263.5 471.07L263.8 470.88L264 470.87L264.2 471.02L264.5 471.3L264.8 471.63L265 471.96L265.2 472.22L265.5 472.35L265.8 472.29L266 472.08L266.2 471.77L266.5 471.43L266.8 471.12L267 470.91L267.2 470.85L267.5 470.98L267.8 471.24L268 471.57L268.2 471.9L268.5 472.18L268.8 472.33L269 472.32L269.2 472.13L269.5 471.84L269.8 471.5L270 471.18L270.2 470.94L270.5 470.85L270.8 470.94L271 471.18L271.2 471.5L271.5 471.84L271.8 472.13L272 472.32L272.2 472.33L272.5 472.18L272.8 471.9L273 471.57L273.2 471.24L273.5 470.98L273.8 470.85L274 470.91L274.2 471.12L274.5 471.43L274.8 471.77L275 472.08L275.2 472.29L275.5 472.35L275.8 472.22L276 471.96L276.2 471.63L276.5 471.3L276.8 471.02L277 470.87L277.2 470.88L277.5 471.07L277.8 471.36L278 471.7L278.2 472.02L278.5 472.26L278.8 472.35L279 472.26L279.2 472.02L279.5 471.7L279.8 471.36L280 471.07L280.2 470.88L280.5 470.87L280.8 471.02L281 471.3L281.2 471.63L281.5 471.96L281.8 472.22L282 472.35L282.2 472.29L282.5 472.08L282.8 471.77L283 471.43L283.2 471.12L283.5 470.91L283.8 470.85L284 470.98L284.2 471.24L284.5 471.57L284.8 471.9L285 472.18L285.2 472.33L285.5 472.32L285.8 472.13L286 471.84L286.2 471.5L286.5 471.18L286.8 470.94L287 470.85L287.2 470.94L287.5 471.18L287.8 471.5L288 471.84L288.2 472.13L288.5 472.32L288.8 472.33L289 472.18L289.2 471.9L289.5 471.57L289.8 471.24L290 470.98L290.2 470.85L290.5 470.91L290.8 471.12L291 471.43L291.2 471.77L291.5 472.08L291.8 472.29L292 472.35L292.2 472.22L292.5 471.96L292.8 471.63L293 471.3L293.2 471.02L293.5 470.87L293.8 470.88L294 471.07L294.2 471.36L294.5 471.7L294.8 472.02L295 472.26L295.2 472.35L295.5 472.26L295.8 472.02L296 471.7L296.2 471.36L296.5 471.07L296.8 470.88L297 470.87L297.2 471.02L297.5 471.3L297.8 471.63L298 471.96L298.2 472.22L298.5 472.35L298.8 472.29L299 472.08L299.2 471.77L299.5 471.43L299.8 471.12L300 470.91L300.2 470.85L300.5 470.98L300.8 471.24L301 471.57L301.2 471.9L301.5 472.18L301.8 472.33L302 472.32L302.2 472.13L302.5 471.84L302.8 471.5L303 471.18L303.2 470.94L303.5 470.85L303.8 470.94L304 471.18L304.2 471.5L304.5 471.84L304.8 472.13L305 472.32L305.2 472.33L305.5 472.18L305.8 471.9L306 471.57L306.2 471.24L306.5 470.98L306.8 470.85L307 470.91L307.2 471.12L307.5 471.43L307.8 471.77L308 472.08L308.2 472.29L308.5 472.35L308.8 472.22L309 471.96L309.2 471.63L309.5 471.3L309.8 471.02L310 470.87L310.2 470.88L310.5 471.07L310.8 471.36L311 471.7L311.2 472.02L311.5 472.26L311.8 472.35L312 472.26L312.2 472.02L312.5 471.7L312.8 471.36L313 471.07L313.2 470.88L313.5 470.87L313.8 471.02L314 471.3L314.2 471.63L314.5 471.96L314.8 472.22L315 472.35L315.2 472.29L315.5 472.08L315.8 471.77L316 471.43L316.2 471.12L316.5 470.91L316.8 470.85L317 470.98L317.2 471.24L317.5 471.57L317.8 471.9L318 472.18L318.2 472.33L318.5 472.32L318.8 472.13L319 471.84L319.2 471.5L319.5 471.18L319.8 470.94L320 470.85L320.2 470.94L320.5 471.18L320.8 471.5L321 471.84L321.2 472.13L321.5 472.32L321.8 472.33L322 472.18L322.2 471.9L322.5 471.57L322.8 471.24L323 470.98L323.2 470.85L323.5 470.91L323.8 471.12L324 471.43L324.2 471.77L324.5 472.08L324.8 472.29L325 472.35L325.2 472.22L325.5 471.96L325.8 471.63L326 471.3L326.2 471.02L326.5 470.87L326.8 470.88L327 471.07L327.2 471.36L327.5 471.7L327.8 472.02L328 472.26L328.2 472.35L328.5 472.26L328.8 472.02L329 471.7L329.2 471.36L329.5 471.07L329.8 470.88L330 470.87L330.2 471.02L330.5 471.3L330.8 471.63L331 471.96L331.2 472.22L331.5 472.35L331.8 472.29L332 472.08L332.2 471.77L332.5 471.43L332.8 471.12L333 470.91L333.2 470.85L333.5 470.98L333.8 471.24L334 471.57L334.2 471.9L334.5 472.18L334.8 472.33L335 472.32L335.2 472.13L335.5 471.84L335.8 471.5L336 471.18L336.2 470.94L336.5 470.85L336.8 470.94L337 471.18L337.2 471.5L337.5 471.84L337.8 472.13L338 472.32L338.2 472.33L338.5 472.18L338.8 471.9L339 471.57L339.2 471.24L339.5 470.98L339.8 470.85L340 470.91L340.2 471.12L340.5 471.43L340.8 471.77L341 472.08L341.2 472.29L341.5 472.35L341.8 472.22L342 471.96L342.2 471.63L342.5 471.3L342.8 471.02L343 470.87L343.2 470.88L343.5 471.07L343.8 471.36L344 471.7L344.2 472.02L344.5 472.26L344.8 472.35L345 472.26L345.2 472.02L345.5 471.7L345.8 471.36L346 471.07L346.2 470.88L346.5 470.87L346.8 471.02L347 471.3L347.2 471.63L347.5 471.96L347.8 472.22L348 472.35L348.2 472.29L348.5 472.08L348.8 471.77L349 471.43L349.2 471.12L349.5 470.91L349.8 470.85L350 470.98L350.2 471.24L350.5 471.57L350.8 471.9L351 472.18L351.2 472.33L351.5 472.32L351.8 472.13L352 471.84L352.2 471.5L352.5 471.18L352.8 470.94L353 470.85L353.2 470.94L353.5 471.18L353.8 471.5L354 471.84L354.2 472.13L354.5 472.32L354.8 472.33L355 472.18L355.2 471.9L355.5 471.57L355.8 471.24L356 470.98L356.2 470.85L356.5 470.91L356.8 471.12L357 471.43L357.2 471.77L357.5 472.08L357.8 472.29L358 472.35L358.2 472.22L358.5 471.96L358.8 471.63L359 471.3L359.2 471.02L359.5 470.87L359.8 470.88L360 471.07L360.2 471.36L360.5 471.7L360.8 472.02L361 472.26L361.2 472.35L361.5 472.26L361.8 472.02L362 471.7L362.2 471.36L362.5 471.07L362.8 470.88L363 470.87L363.2 471.02L363.5 471.3L363.8 471.63L364 471.96L364.2 472.22L364.5 472.35L364.8 472.29L365 472.08L365.2 471.77L365.5 471.43L365.8 471.12L366 470.91L366.2 470.85L366.5 470.98L366.8 471.24L367 471.57L367.2 471.9L367.5 472.18L367.8 472.33L368 472.32L368.2 472.13L368.5 471.84L368.8 471.5L369 471.18L369.2 470.94L369.5 470.85L369.8 470.94L370 471.18L370.2 471.5L370.5 471.84L370.8 472.13L371 472.32L371.2 472.33L371.5 472.18L371.8 471.9L372 471.57L372.2 471.24L372.5 470.98L372.8 470.85L373 470.91L373.2 471.12L373.5 471.43L373.8 471.77L374 472.08L374.2 472.29L374.5 472.35L374.8 472.22L375 471.96L375.2 471.63L375.5 471.3L375.8 471.02L376 470.87L376.2 470.88L376.5 471.07L376.8 471.36L377 471.7L377.2 472.02L377.5 472.26L377.8 472.35L378 472.26L378.2 472.02L378.5 471.7L378.8 471.36L379 471.07L379.2 470.88L379.5 470.87L379.8 471.02L380 471.3L380.2 471.63L380.5 471.96L380.8 472.22L381 472.35L381.2 472.29L381.5 472.08L381.8 471.77L382 471.43L382.2 471.12L382.5 470.91L382.8 470.85L383 470.98L383.2 471.24L383.5 471.57L383.8 471.9L384 472.18L384.2 472.33L384.5 472.32L384.8 472.13L385 471.84L385.2 471.5L385.5 471.18L385.8 470.94L386 470.85L386.2 470.94L386.5 471.18L386.8 471.5L387 471.84L387.2 472.13L387.5 472.32L387.8 472.33L388 472.18L388.2 471.9L388.5 471.57L388.8 471.24L389 470.98L389.2 470.85L389.5 470.91L389.8 471.12L390 471.43L390.2 471.77L390.5 472.08L390.8 472.29L391 472.35L391.2 472.22L391.5 471.96L391.8 471.63L392 471.3L392.2 471.02L392.5 470.87L392.8 470.88L393 471.07L393.2 471.36L393.5 471.7L393.8 472.02L394 472.26L394.2 472.35L394.5 472.26L394.8 472.02L395 471.7L395.2 471.36L395.5 471.07L395.8 470.88L396 470.87L396.2 471.02L396.5 471.3L396.8 471.63L397 471.96L397.2 472.22L397.5 472.35L397.8 472.29L398 472.08L398.2 471.77L398.5 471.43L398.8 471.12L399 470.91L399.2 470.85L399.5 470.98L399.8 471.24L400 471.57L400.2 471.9L400.5 472.18L400.8 472.33L401 472.32L401.2 472.13L401.5 471.84L401.8 471.5L402 471.18L402.2 470.94L402.5 470.85L402.8 470.94L403 471.18L403.2 471.5L403.5 471.84L403.8 472.13L404 472.32L404.2 472.33L404.5 472.18L404.8 471.9L405 471.57L405.2 471.24L405.5 470.98L405.8 470.85L406 470.91L406.2 471.12L406.5 471.43L406.8 471.77L407 472.08L407.2 472.29L407.5 472.35L407.8 472.22L408 471.96L408.2 471.63L408.5 471.3L408.8 471.02L409 470.87L409.2 470.88L409.5 471.07L409.8 471.36L410 471.7L410.2 472.02L410.5 472.26L410.8 472.35L411 472.26L411.2 472.02L411.5 471.7L411.8 471.36L412 471.07L412.2 470.88L412.5 470.87L412.8 471.02L413 471.3L413.2 471.63L413.5 471.96L413.8 472.22L414 472.35L414.2 472.29L414.5 472.08L414.8 471.77L415 471.43L415.2 471.12L415.5 470.91L415.8 470.85L416 470.98L416.2 471.24L416.5 471.57L416.8 471.9L417 472.18L417.2 472.33L417.5 472.32L417.8 472.13L418 471.84L418.2 471.5L418.5 471.18L418.8 470.94L419 470.85L419.2 470.94L419.5 471.18L419.8 471.5L420 471.84L420.2 472.13L420.5 472.32L420.8 472.33L421 472.18L421.2 471.9L421.5 471.57L421.8 471.24L422 470.98L422.2 470.85L422.5 470.91L422.8 471.12L423 471.43L423.2 471.77L423.5 472.08L423.8 472.29L424 472.35L424.2 472.22L424.5 471.96L424.8 471.63L425 471.3L425.2 471.02L425.5 470.87L425.8 470.88L426 471.07L426.2 471.36L426.5 471.7L426.8 472.02L427 472.26L427.2 472.35L427.5 472.26L427.8 472.02L428 471.7L428.2 471.36L428.5 471.07L428.8 470.88L429 470.87L429.2 471.02L429.5 471.3L429.8 471.63L430 471.96L430.2 472.22L430.5 472.35L430.8 472.29L431 472.08L431.2 471.77L431.5 471.43L431.8 471.12L432 470.91L432.2 470.85L432.5 470.98L432.8 471.24L433 471.57L433.2 471.9L433.5 472.18L433.8 472.33L434 472.32L434.2 472.13L434.5 471.84L434.8 471.5L435 471.18L435.2 470.94L435.5 470.85L435.8 470.94L436 471.18L436.2 471.5L436.5 471.84L436.8 472.13L437 472.32L437.2 472.33L437.5 472.18L437.8 471.9L438 471.57L438.2 471.24L438.5 470.98L438.8 470.85L439 470.91L439.2 471.12L439.5 471.43L439.8 471.77L440 472.08L440.2 472.29L440.5 472.35L440.8 472.22L441 471.96L441.2 471.63L441.5 471.3L441.8 471.02L442 470.87L442.2 470.88L442.5 471.07L442.8 471.36L443 471.7L443.2 472.02L443.5 472.26L443.8 472.35L444 472.26L444.2 472.02L444.5 471.7L444.8 471.36L445 471.07L445.2 470.88L445.5 470.87L445.8 471.02L446 471.3L446.2 471.63L446.5 471.96L446.8 472.22L447 472.35L447.2 472.29L447.5 472.08L447.8 471.77L448 471.43L448.2 471.12L448.5 470.91L448.8 470.85L449 470.98L449.2 471.24L449.5 471.57L449.8 471.9L450 472.18L450.2 472.33L450.5 472.32L450.8 472.13L451 471.84L451.2 471.5L451.5 471.18L451.8 470.94L452 470.85L452.2 470.94L452.5 471.18L452.8 471.5L453 471.84L453.2 472.13L453.5 472.32L453.8 472.33L454 472.18L454.2 471.9L454.5 471.57L454.8 471.24L455 470.98L455.2 470.85L455.5 470.91L455.8 471.12L456 471.43L456.2 471.77L456.5 472.08L456.8 472.29L457 472.35L457.2 472.22L457.5 471.96L457.8 471.63L458 471.3L458.2 471.02L458.5 470.87L458.8 470.88L459 471.07L459.2 471.36L459.5 471.7L459.8 472.02L460 472.26L460.2 472.35L460.5 472.26L460.8 472.02L461 471.7L461.2 471.36L461.5 471.07L461.8 470.88L462 470.87L462.2 471.02L462.5 471.3L462.8 471.63L463 471.96L463.2 472.22L463.5 472.35L463.8 472.29L464 472.08L464.2 471.77L464.5 471.43L464.8 471.12L465 470.91L465.2 470.85L465.5 470.98L465.8 471.24L466 471.57L466.2 471.9L466.5 472.18L466.8 472.33L467 472.32L467.2 472.13L467.5 471.84L467.8 471.5L468 471.18L468.2 470.94L468.5 470.85L468.8 470.94L469 471.18L469.2 471.5L469.5 471.84L469.8 472.13L470 472.32L470.2 472.33L470.5 472.18L470.8 471.9L471 471.57L471.2 471.24L471.5 470.98L471.8 470.85L472 470.91L472.2 471.12L472.5 471.43L472.8 471.77L473 472.08L473.2 472.29L473.5 472.35L473.8 472.22L474 471.96L474.2 471.63L474.5 471.3L474.8 471.02L475 470.87L475.2 470.88L475.5 471.07L475.8 471.36L476 471.7L476.2 472.02L476.5 472.26L476.8 472.35L477 472.26L477.2 472.02L477.5 471.7L477.8 471.36L478 471.07L478.2 470.88L478.5 470.87L478.8 471.02L479 471.3L479.2 471.63L479.5 471.96L479.8 472.22L480 472.35L480.2 472.29L480.5 472.08L480.8 471.77L481 471.43L481.2 471.12L481.5 470.91L481.8 470.85L482 470.98L482.2 471.24L482.5 471.57L482.8 471.9L483 472.18L483.2 472.33L483.5 472.32L483.8 472.13L484 471.84L484.2 471.5L484.5 471.18L484.8 470.94L485 470.85L485.2 470.94L485.5 471.18L485.8 471.5L486 471.84L486.2 472.13L486.5 472.32L486.8 472.33L487 472.18L487.2 471.9L487.5 471.57L487.8 471.24L488 470.98L488.2 470.85L488.5 470.91L488.8 471.12L489 471.43L489.2 471.77L489.5 472.08L489.8 472.29L490 472.35L490.2 472.22L490.5 471.96L490.8 471.63L491 471.3L491.2 471.02L491.5 470.87L491.8 470.88L492 471.07L492.2 471.36L492.5 471.7L492.8 472.02L493 472.26L493.2 472.35L493.5 472.26L493.8 472.02L494 471.7L494.2 471.36L494.5 471.07L494.8 470.88L495 470.98L495.2 471.6" fill="none" stroke="#00f" stroke-width="1.6" stroke-linejoin="round"/>
<path d="M78.3 535.5 l5.85 11.9 h-11.7z" fill="#00f"/><path d="M85.7 471 l5.85 11.9 h-11.7z" fill="#00f"/><path d="M95.4 461.7 l5.85 11.9 h-11.7z" fill="#00f"/><path d="M106 454 l5.85 11.9 h-11.7z" fill="#00f"/><path d="M118.3 473.4 l5.85 11.9 h-11.7z" fill="#00f"/><path d="M134.4 468 l5.85 11.9 h-11.7z" fill="#00f"/><path d="M154.6 467 l5.85 11.9 h-11.7z" fill="#00f"/><path d="M177.8 464.8 l5.85 11.9 h-11.7z" fill="#00f"/><path d="M204.3 464.8 l5.85 11.9 h-11.7z" fill="#00f"/><path d="M230.8 467.2 l5.85 11.9 h-11.7z" fill="#00f"/><path d="M257.3 467.2 l5.85 11.9 h-11.7z" fill="#00f"/><path d="M283.9 464.8 l5.85 11.9 h-11.7z" fill="#00f"/><path d="M310.4 467.2 l5.85 11.9 h-11.7z" fill="#00f"/><path d="M336.9 467.2 l5.85 11.9 h-11.7z" fill="#00f"/><path d="M363.4 464.8 l5.85 11.9 h-11.7z" fill="#00f"/><path d="M389.9 464.8 l5.85 11.9 h-11.7z" fill="#00f"/><path d="M416.4 467.2 l5.85 11.9 h-11.7z" fill="#00f"/><path d="M441.7 467.2 l5.85 11.9 h-11.7z" fill="#00f"/><path d="M467 467.2 l5.85 11.9 h-11.7z" fill="#00f"/><path d="M493 464.8 l5.85 11.9 h-11.7z" fill="#00f"/>
<path d="M78 314L79 305.27L80 302.05L81 300.8L82 300L83 299.35L84 298.84L85 298.4L86 297.98L87 297.5L88 297.01L89 296.54L90 296.06L91 295.52L92 294.87L93 294.05L94 292.9L95 291.5L96 289.99L97 288.5L98 287.03L99 285.5L100 283.91L101 282.29L102 280.65L103 279.01L104 277.38L105 275.77L106 274.2L107 272.69L108 271.24L109 269.8L110 268.37L111 266.96L112 265.57L113 264.2L114 262.84L115 261.51L116 260.19L117 258.89L118 257.62L119 256.36L120 255.13L121 253.92L122 252.72L123 251.55L124 250.38L125 249.23L126 248.1L127 246.98L128 245.87L129 244.78L130 243.69L131 242.62L132 241.55L133 240.5L134 239.45L135 238.41L136 237.37L137 236.35L138 235.34L139 234.34L140 233.34L141 232.36L142 231.38L143 230.41L144 229.44L145 228.49L146 227.53L147 226.59L148 225.64L149 224.71L150 223.77L151 222.84L152 221.91L153 220.98L154 220.05L155 219.12L156 218.2L157 217.27L158 216.34L159 215.41L160 214.48L161 213.55L162 212.61L163 211.66L164 210.72L165 209.77L166 208.83L167 207.88L168 206.93L169 205.98L170 205.03L171 204.09L172 203.14L173 202.2L174 201.26L175 200.33L176 199.39L177 198.47L178 197.55L179 196.63L180 195.73L181 194.83L182 193.93L183 193.05L184 192.17L185 191.31L186 190.45L187 189.61L188 188.77L189 187.95L190 187.14L191 186.33L192 185.53L193 184.72L194 183.92L195 183.12L196 182.32L197 181.53L198 180.74L199 179.95L200 179.16L201 178.38L202 177.6L203 176.83L204 176.06L205 175.3L206 174.55L207 173.79L208 173.05L209 172.31L210 171.58L211 170.86L212 170.14L213 169.44L214 168.74L215 168.05L216 167.37L217 166.7L218 166.03L219 165.38L220 164.74L221 164.11L222 163.49L223 162.88L224 162.29L225 161.7L226 161.13L227 160.57L228 160.03L229 159.49L230 158.96L231 158.43L232 157.91L233 157.4L234 156.89L235 156.39L236 155.89L237 155.4L238 154.92L239 154.44L240 153.97L241 153.5L242 153.04L243 152.59L244 152.14L245 151.7L246 151.26L247 150.83L248 150.4L249 149.98L250 149.57L251 149.16L252 148.75L253 148.36L254 147.96L255 147.57L256 147.19L257 146.81L258 146.44L259 146.07L260 145.71L261 145.36L262 145L263 144.66L264 144.31L265 143.97L266 143.62L267 143.28L268 142.95L269 142.61L270 142.28L271 141.95L272 141.62L273 141.3L274 140.98L275 140.67L276 140.35L277 140.05L278 139.74L279 139.45L280 139.15L281 138.87L282 138.58L283 138.31L284 138.04L285 137.77L286 137.51L287 137.26L288 137.02L289 136.78L290 136.54L291 136.32L292 136.1L293 135.89L294 135.69L295 135.5L296 135.31L297 135.13L298 134.95L299 134.77L300 134.59L301 134.42L302 134.25L303 134.08L304 133.91L305 133.75L306 133.59L307 133.44L308 133.28L309 133.13L310 132.98L311 132.84L312 132.7L313 132.56L314 132.43L315 132.29L316 132.17L317 132.04L318 131.92L319 131.8L320 131.68L321 131.57L322 131.46L323 131.35L324 131.25L325 131.15L326 131.06L327 130.96L328 130.87L329 130.79L330 130.7L331 130.61L332 130.53L333 130.45L334 130.36L335 130.28L336 130.21L337 130.13L338 130.05L339 129.98L340 129.9L341 129.83L342 129.76L343 129.69L344 129.63L345 129.56L346 129.5L347 129.44L348 129.38L349 129.32L350 129.26L351 129.21L352 129.15L353 129.1L354 129.05L355 129.01L356 128.96L357 128.92L358 128.88L359 128.84L360 128.8L361 128.76L362 128.73L363 128.69L364 128.65L365 128.62L366 128.58L367 128.55L368 128.51L369 128.47L370 128.44L371 128.41L372 128.37L373 128.34L374 128.31L375 128.28L376 128.25L377 128.22L378 128.2L379 128.17L380 128.15L381 128.12L382 128.1L383 128.08L384 128.07L385 128.05L386 128.04L387 128.03L388 128.02L389 128.01L390 128L391 128L392 128L393 128L394 128L395 128.01L396 128.01L397 128.02L398 128.02L399 128.03L400 128.04L401 128.05L402 128.06L403 128.07L404 128.08L405 128.09L406 128.11L407 128.12L408 128.14L409 128.15L410 128.17L411 128.18L412 128.2L413 128.21L414 128.23L415 128.25L416 128.27L417 128.28L418 128.3L419 128.32L420 128.34L421 128.36L422 128.38L423 128.39L424 128.41L425 128.43L426 128.45L427 128.47L428 128.49L429 128.5L430 128.52L431 128.54L432 128.55L433 128.57L434 128.58L435 128.6L436 128.62L437 128.63L438 128.65L439 128.67L440 128.68L441 128.7L442 128.72L443 128.74L444 128.76L445 128.78L446 128.8L447 128.82L448 128.84L449 128.86L450 128.88L451 128.91L452 128.93L453 128.95L454 128.97L455 128.99L456 129.01L457 129.03L458 129.05L459 129.07L460 129.09L461 129.11L462 129.13L463 129.14L464 129.16L465 129.18L466 129.19L467 129.21L468 129.22L469 129.23L470 129.24L471 129.26L472 129.27L473 129.27L474 129.28L475 129.29L476 129.29L477 129.3L478 129.3L479 129.3L480 129.3L481 129.3L482 129.3L483 129.3L484 129.3L485 129.3L486 129.3L487 129.3L488 129.3L489 129.3L490 129.3L491 129.3L492 129.3L493 129.3L494 129.3L495 129.3L495.2 129.3" fill="none" stroke="#0ff" stroke-width="1.6" stroke-linejoin="round"/>
<path d="M77.25 295.75 h9.5 L82 305.45z" fill="none" stroke="#0ff" stroke-width="1.5" stroke-miterlimit="10"/><path d="M87.75 290.25 h9.5 L92.5 299.95z" fill="none" stroke="#0ff" stroke-width="1.5" stroke-miterlimit="10"/><path d="M102.45 268.15 h9.5 L107.2 277.85z" fill="none" stroke="#0ff" stroke-width="1.5" stroke-miterlimit="10"/><path d="M114.95 251.25 h9.5 L119.7 260.95z" fill="none" stroke="#0ff" stroke-width="1.5" stroke-miterlimit="10"/><path d="M130.45 233.95 h9.5 L135.2 243.65z" fill="none" stroke="#0ff" stroke-width="1.5" stroke-miterlimit="10"/><path d="M155.55 209.95 h9.5 L160.3 219.65z" fill="none" stroke="#0ff" stroke-width="1.5" stroke-miterlimit="10"/><path d="M185.05 183.05 h9.5 L189.8 192.75z" fill="none" stroke="#0ff" stroke-width="1.5" stroke-miterlimit="10"/><path d="M222.75 156.05 h9.5 L227.5 165.75z" fill="none" stroke="#0ff" stroke-width="1.5" stroke-miterlimit="10"/><path d="M257.55 140.65 h9.5 L262.3 150.35z" fill="none" stroke="#0ff" stroke-width="1.5" stroke-miterlimit="10"/><path d="M322.95 126.65 h9.5 L327.7 136.35z" fill="none" stroke="#0ff" stroke-width="1.5" stroke-miterlimit="10"/><path d="M386.85 123.75 h9.5 L391.6 133.45z" fill="none" stroke="#0ff" stroke-width="1.5" stroke-miterlimit="10"/><path d="M474.35 125.05 h9.5 L479.1 134.75z" fill="none" stroke="#0ff" stroke-width="1.5" stroke-miterlimit="10"/>
<path d="M78 325L78.5 324.39L79 323.68L79.5 322.88L80 322L80.5 320.98L81 319.8L81.5 318.52L82 317.24L82.5 316L83 314.81L83.5 313.62L84 312.43L84.5 311.26L85 310.11L85.5 309L86 307.89L86.5 306.77L87 305.67L87.5 304.61L88 303.62L88.5 302.73L89 301.94L89.5 301.25L90 300.63L90.5 300.05L91 299.51L91.5 298.97L92 298.42L92.5 297.84L93 297.21L93.5 296.5L94 295.71L94.5 294.84L95 293.88L95.5 292.86L96 291.78L96.5 290.66L97 289.51L97.5 288.33L98 287.14L98.5 285.96L99 284.78L99.5 283.62L100 282.5L100.5 281.4L101 280.3L101.5 279.21L102 278.12L102.5 277.02L103 275.93L103.5 274.83L104 273.73L104.5 272.62L105 271.5L105.5 270.37L106 269.24L106.5 268.09L107 266.93L107.5 265.75L108 264.56L108.5 263.35L109 262.13L109.5 260.9L110 259.65L110.5 258.39L111 257.12L111.5 255.85L112 254.56L112.5 253.26L113 251.96L113.5 250.65L114 249.33L114.5 248.01L115 246.68L115.5 245.35L116 244.01L116.5 242.67L117 241.34L117.5 239.99L118 238.62L118.5 237.22L119 235.8L119.5 234.37L120 232.94L120.5 231.52L121 230.1L121.5 228.7L122 227.32L122.5 225.97L123 224.66L123.5 223.39L124 222.1L124.5 220.79L125 219.47L125.5 218.15L126 216.86L126.5 215.6L127 214.4L127.5 213.26L128 212.21L128.5 211.24L129 210.39L129.5 209.66L130 208.97L130.5 208.27L131 207.58L131.5 206.92L132 206.3L132.5 205.73L133 205.23L133.5 204.8L134 204.46L134.5 204.23L135 204.11L135.5 204.11L136 204.15L136.5 204.22L137 204.33L137.5 204.46L138 204.62L138.5 204.8L139 204.99L139.5 205.2L140 205.5L140.5 205.96L141 206.54L141.5 207.21L142 207.94L142.5 208.7L143 209.46L143.5 210.19L144 210.86L144.5 211.53L145 212.22L145.5 212.91L146 213.61L146.5 214.32L147 215.03L147.5 215.74L148 216.45L148.5 217.15L149 217.85L149.5 218.53L150 219.2L150.5 219.86L151 220.52L151.5 221.18L152 221.85L152.5 222.51L153 223.16L153.5 223.81L154 224.46L154.5 225.09L155 225.7L155.5 226.31L156 226.89L156.5 227.45L157 227.99L157.5 228.5L158 229L158.5 229.49L159 229.97L159.5 230.45L160 230.92L160.5 231.38L161 231.83L161.5 232.27L162 232.71L162.5 233.13L163 233.54L163.5 233.94L164 234.33L164.5 234.7L165 235.06L165.5 235.4L166 235.73L166.5 236.05L167 236.34L167.5 236.63L168 236.93L168.5 237.22L169 237.52L169.5 237.82L170 238.12L170.5 238.41L171 238.7L171.5 238.98L172 239.24L172.5 239.5L173 239.73L173.5 239.95L174 240.15L174.5 240.33L175 240.48L175.5 240.6L176 240.7L176.5 240.77L177 240.8L177.5 240.8L178 240.8L178.5 240.79L179 240.78L179.5 240.76L180 240.75L180.5 240.73L181 240.71L181.5 240.68L182 240.65L182.5 240.62L183 240.59L183.5 240.56L184 240.52L184.5 240.48L185 240.44L185.5 240.4L186 240.36L186.5 240.32L187 240.27L187.5 240.22L188 240.18L188.5 240.13L189 240.08L189.5 240.03L190 239.98L190.5 239.92L191 239.85L191.5 239.77L192 239.67L192.5 239.57L193 239.46L193.5 239.35L194 239.22L194.5 239.09L195 238.95L195.5 238.81L196 238.67L196.5 238.51L197 238.36L197.5 238.2L198 238.04L198.5 237.88L199 237.72L199.5 237.55L200 237.39L200.5 237.23L201 237.07L201.5 236.91L202 236.75L202.5 236.6L203 236.45L203.5 236.31L204 236.17L204.5 236.04L205 235.91L205.5 235.79L206 235.68L206.5 235.57L207 235.46L207.5 235.35L208 235.24L208.5 235.13L209 235.02L209.5 234.91L210 234.8L210.5 234.7L211 234.59L211.5 234.48L212 234.38L212.5 234.27L213 234.17L213.5 234.07L214 233.97L214.5 233.87L215 233.77L215.5 233.68L216 233.58L216.5 233.49L217 233.4L217.5 233.31L218 233.23L218.5 233.14L219 233.06L219.5 232.99L220 232.91L220.5 232.84L221 232.77L221.5 232.7L222 232.64L222.5 232.58L223 232.52L223.5 232.47L224 232.41L224.5 232.36L225 232.31L225.5 232.25L226 232.2L226.5 232.14L227 232.09L227.5 232.04L228 231.98L228.5 231.93L229 231.88L229.5 231.83L230 231.78L230.5 231.73L231 231.69L231.5 231.64L232 231.59L232.5 231.55L233 231.51L233.5 231.47L234 231.43L234.5 231.39L235 231.35L235.5 231.32L236 231.29L236.5 231.26L237 231.23L237.5 231.21L238 231.18L238.5 231.16L239 231.15L239.5 231.13L240 231.12L240.5 231.11L241 231.1L241.5 231.1L242 231.1L242.5 231.1L243 231.11L243.5 231.13L244 231.14L244.5 231.17L245 231.19L245.5 231.22L246 231.25L246.5 231.29L247 231.33L247.5 231.37L248 231.41L248.5 231.46L249 231.5L249.5 231.55L250 231.6L250.5 231.65L251 231.71L251.5 231.76L252 231.81L252.5 231.87L253 231.92L253.5 231.98L254 232.03L254.5 232.08L255 232.14L255.5 232.19L256 232.24L256.5 232.29L257 232.34L257.5 232.38L258 232.42L258.5 232.47L259 232.5L259.5 232.54L260 232.57L260.5 232.6L261 232.63L261.5 232.65L262 232.68L262.5 232.71L263 232.74L263.5 232.77L264 232.79L264.5 232.82L265 232.85L265.5 232.88L266 232.91L266.5 232.94L267 232.96L267.5 232.99L268 233.02L268.5 233.05L269 233.07L269.5 233.1L270 233.12L270.5 233.15L271 233.18L271.5 233.2L272 233.23L272.5 233.25L273 233.27L273.5 233.3L274 233.32L274.5 233.34L275 233.36L275.5 233.38L276 233.4L276.5 233.42L277 233.44L277.5 233.46L278 233.47L278.5 233.49L279 233.5L279.5 233.52L280 233.53L280.5 233.54L281 233.55L281.5 233.56L282 233.57L282.5 233.58L283 233.59L283.5 233.59L284 233.6L284.5 233.6L285 233.6L285.5 233.6L286 233.6L286.5 233.6L287 233.59L287.5 233.59L288 233.58L288.5 233.57L289 233.56L289.5 233.55L290 233.54L290.5 233.53L291 233.52L291.5 233.5L292 233.49L292.5 233.47L293 233.46L293.5 233.44L294 233.42L294.5 233.4L295 233.39L295.5 233.37L296 233.35L296.5 233.33L297 233.31L297.5 233.29L298 233.28L298.5 233.26L299 233.24L299.5 233.22L300 233.2L300.5 233.19L301 233.17L301.5 233.15L302 233.13L302.5 233.12L303 233.1L303.5 233.09L304 233.08L304.5 233.06L305 233.05L305.5 233.04L306 233.03L306.5 233.02L307 233.02L307.5 233.01L308 233.01L308.5 233L309 233L309.5 233L310 233L310.5 233L311 233L311.5 233L312 233L312.5 233L313 233L313.5 233L314 233.01L314.5 233.01L315 233.01L315.5 233.01L316 233.01L316.5 233.01L317 233.02L317.5 233.02L318 233.02L318.5 233.02L319 233.02L319.5 233.03L320 233.03L320.5 233.03L321 233.03L321.5 233.03L322 233.04L322.5 233.04L323 233.04L323.5 233.04L324 233.05L324.5 233.05L325 233.05L325.5 233.05L326 233.06L326.5 233.06L327 233.06L327.5 233.06L328 233.07L328.5 233.07L329 233.07L329.5 233.07L330 233.07L330.5 233.08L331 233.08L331.5 233.08L332 233.08L332.5 233.08L333 233.09L333.5 233.09L334 233.09L334.5 233.09L335 233.09L335.5 233.09L336 233.09L336.5 233.1L337 233.1L337.5 233.1L338 233.1L338.5 233.1L339 233.1L339.5 233.1L340 233.1L340.5 233.1L341 233.1L341.5 233.1L342 233.1L342.5 233.1L343 233.1L343.5 233.1L344 233.1L344.5 233.1L345 233.1L345.5 233.1L346 233.1L346.5 233.1L347 233.1L347.5 233.1L348 233.1L348.5 233.1L349 233.1L349.5 233.1L350 233.1L350.5 233.1L351 233.1L351.5 233.1L352 233.1L352.5 233.1L353 233.1L353.5 233.1L354 233.1L354.5 233.1L355 233.1L355.5 233.1L356 233.1L356.5 233.1L357 233.1L357.5 233.1L358 233.1L358.5 233.1L359 233.1L359.5 233.1L360 233.1L360.5 233.1L361 233.1L361.5 233.1L362 233.1L362.5 233.1L363 233.1L363.5 233.1L364 233.1L364.5 233.1L365 233.1L365.5 233.1L366 233.1L366.5 233.1L367 233.1L367.5 233.1L368 233.1L368.5 233.1L369 233.1L369.5 233.1L370 233.1L370.5 233.1L371 233.1L371.5 233.1L372 233.1L372.5 233.1L373 233.1L373.5 233.1L374 233.1L374.5 233.1L375 233.1L375.5 233.1L376 233.1L376.5 233.1L377 233.1L377.5 233.1L378 233.1L378.5 233.1L379 233.1L379.5 233.1L380 233.1L380.5 233.1L381 233.1L381.5 233.1L382 233.1L382.5 233.1L383 233.1L383.5 233.1L384 233.1L384.5 233.1L385 233.1L385.5 233.1L386 233.1L386.5 233.1L387 233.1L387.5 233.1L388 233.1L388.5 233.1L389 233.1L389.5 233.1L390 233.1L390.5 233.1L391 233.1L391.5 233.1L392 233.1L392.5 233.1L393 233.1L393.5 233.1L394 233.1L394.5 233.1L395 233.1L395.5 233.1L396 233.1L396.5 233.1L397 233.1L397.5 233.1L398 233.1L398.5 233.1L399 233.1L399.5 233.1L400 233.1L400.5 233.1L401 233.1L401.5 233.1L402 233.1L402.5 233.1L403 233.1L403.5 233.1L404 233.1L404.5 233.1L405 233.1L405.5 233.1L406 233.1L406.5 233.1L407 233.1L407.5 233.1L408 233.1L408.5 233.1L409 233.1L409.5 233.1L410 233.1L410.5 233.1L411 233.1L411.5 233.1L412 233.1L412.5 233.1L413 233.1L413.5 233.1L414 233.1L414.5 233.1L415 233.1L415.5 233.1L416 233.1L416.5 233.1L417 233.1L417.5 233.1L418 233.1L418.5 233.1L419 233.1L419.5 233.1L420 233.1L420.5 233.1L421 233.1L421.5 233.1L422 233.1L422.5 233.1L423 233.1L423.5 233.1L424 233.1L424.5 233.1L425 233.1L425.5 233.1L426 233.1L426.5 233.1L427 233.1L427.5 233.1L428 233.1L428.5 233.1L429 233.1L429.5 233.1L430 233.1L430.5 233.1L431 233.1L431.5 233.1L432 233.1L432.5 233.1L433 233.1L433.5 233.1L434 233.1L434.5 233.1L435 233.1L435.5 233.1L436 233.1L436.5 233.1L437 233.1L437.5 233.1L438 233.1L438.5 233.1L439 233.1L439.5 233.1L440 233.1L440.5 233.1L441 233.1L441.5 233.1L442 233.1L442.5 233.1L443 233.1L443.5 233.1L444 233.1L444.5 233.1L445 233.1L445.5 233.1L446 233.1L446.5 233.1L447 233.1L447.5 233.1L448 233.1L448.5 233.1L449 233.1L449.5 233.1L450 233.1L450.5 233.1L451 233.1L451.5 233.1L452 233.1L452.5 233.1L453 233.1L453.5 233.1L454 233.1L454.5 233.1L455 233.1L455.5 233.1L456 233.1L456.5 233.1L457 233.1L457.5 233.1L458 233.1L458.5 233.1L459 233.1L459.5 233.1L460 233.1L460.5 233.1L461 233.1L461.5 233.1L462 233.1L462.5 233.1L463 233.1L463.5 233.1L464 233.1L464.5 233.1L465 233.1L465.5 233.1L466 233.1L466.5 233.1L467 233.1L467.5 233.1L468 233.1L468.5 233.1L469 233.1L469.5 233.1L470 233.1L470.5 233.1L471 233.1L471.5 233.1L472 233.1L472.5 233.1L473 233.1L473.5 233.1L474 233.1L474.5 233.1L475 233.1L475.5 233.1L476 233.1L476.5 233.1L477 233.1L477.5 233.1L478 233.1L478.5 233.1L479 233.1L479.5 233.1L480 233.1L480.5 233.1L481 233.1L481.5 233.1L482 233.1L482.5 233.1L483 233.1L483.5 233.1L484 233.1L484.5 233.1L485 233.1L485.5 233.1L486 233.1L486.5 233.1L487 233.1L487.5 233.1L488 233.1L488.5 233.1L489 233.1L489.5 233.1L490 233.1L490.5 233.1L491 233.1L491.5 233.1L492 233.1L492.5 233.1L493 233.1L493.5 233.1L494 233.1L494.5 233.1L495 233.1L495.2 233.1" fill="none" stroke="#f0f" stroke-width="1.6" stroke-linejoin="round"/>
<path d="M77.75 320.25 h9.5 L82.5 310.55z" fill="none" stroke="#f0f" stroke-width="1.5" stroke-miterlimit="10"/><path d="M80.75 313.25 h9.5 L85.5 303.55z" fill="none" stroke="#f0f" stroke-width="1.5" stroke-miterlimit="10"/><path d="M83.95 306.65 h9.5 L88.7 296.95z" fill="none" stroke="#f0f" stroke-width="1.5" stroke-miterlimit="10"/><path d="M88.95 300.45 h9.5 L93.7 290.75z" fill="none" stroke="#f0f" stroke-width="1.5" stroke-miterlimit="10"/><path d="M95.25 286.75 h9.5 L100 277.05z" fill="none" stroke="#f0f" stroke-width="1.5" stroke-miterlimit="10"/><path d="M103.15 269.05 h9.5 L107.9 259.35z" fill="none" stroke="#f0f" stroke-width="1.5" stroke-miterlimit="10"/><path d="M112.45 245.05 h9.5 L117.2 235.35z" fill="none" stroke="#f0f" stroke-width="1.5" stroke-miterlimit="10"/><path d="M118.55 228.15 h9.5 L123.3 218.45z" fill="none" stroke="#f0f" stroke-width="1.5" stroke-miterlimit="10"/><path d="M124.65 214.05 h9.5 L129.4 204.35z" fill="none" stroke="#f0f" stroke-width="1.5" stroke-miterlimit="10"/><path d="M130.45 208.35 h9.5 L135.2 198.65z" fill="none" stroke="#f0f" stroke-width="1.5" stroke-miterlimit="10"/><path d="M134.75 209.45 h9.5 L139.5 199.75z" fill="none" stroke="#f0f" stroke-width="1.5" stroke-miterlimit="10"/><path d="M139.05 214.85 h9.5 L143.8 205.15z" fill="none" stroke="#f0f" stroke-width="1.5" stroke-miterlimit="10"/><path d="M145.55 223.85 h9.5 L150.3 214.15z" fill="none" stroke="#f0f" stroke-width="1.5" stroke-miterlimit="10"/><path d="M152.75 232.75 h9.5 L157.5 223.05z" fill="none" stroke="#f0f" stroke-width="1.5" stroke-miterlimit="10"/><path d="M162.35 240.65 h9.5 L167.1 230.95z" fill="none" stroke="#f0f" stroke-width="1.5" stroke-miterlimit="10"/><path d="M172.45 245.05 h9.5 L177.2 235.35z" fill="none" stroke="#f0f" stroke-width="1.5" stroke-miterlimit="10"/><path d="M185.05 244.25 h9.5 L189.8 234.55z" fill="none" stroke="#f0f" stroke-width="1.5" stroke-miterlimit="10"/><path d="M201.15 239.95 h9.5 L205.9 230.25z" fill="none" stroke="#f0f" stroke-width="1.5" stroke-miterlimit="10"/><path d="M218.45 236.75 h9.5 L223.2 227.05z" fill="none" stroke="#f0f" stroke-width="1.5" stroke-miterlimit="10"/><path d="M237.05 235.35 h9.5 L241.8 225.65z" fill="none" stroke="#f0f" stroke-width="1.5" stroke-miterlimit="10"/><path d="M255.75 236.85 h9.5 L260.5 227.15z" fill="none" stroke="#f0f" stroke-width="1.5" stroke-miterlimit="10"/><path d="M280.55 237.85 h9.5 L285.3 228.15z" fill="none" stroke="#f0f" stroke-width="1.5" stroke-miterlimit="10"/><path d="M304.65 237.25 h9.5 L309.4 227.55z" fill="none" stroke="#f0f" stroke-width="1.5" stroke-miterlimit="10"/><path d="M335.55 237.35 h9.5 L340.3 227.65z" fill="none" stroke="#f0f" stroke-width="1.5" stroke-miterlimit="10"/><path d="M366.75 237.35 h9.5 L371.5 227.65z" fill="none" stroke="#f0f" stroke-width="1.5" stroke-miterlimit="10"/><path d="M411.55 237.35 h9.5 L416.3 227.65z" fill="none" stroke="#f0f" stroke-width="1.5" stroke-miterlimit="10"/><path d="M455.65 237.35 h9.5 L460.4 227.65z" fill="none" stroke="#f0f" stroke-width="1.5" stroke-miterlimit="10"/>
<path d="M78 322L78.5 321.25L79 320.31L79.5 319.22L80 318L80.5 316.54L81 314.79L81.5 312.86L82 310.89L82.5 309L83 307.15L83.5 305.24L84 303.33L84.5 301.46L85 299.67L85.5 298L86 296.47L86.5 295.03L87 293.66L87.5 292.31L88 290.96L88.5 289.57L89 288.11L89.5 286.54L90 284.96L90.5 283.43L91 282.01L91.5 280.76L92 279.58L92.5 278.46L93 277.44L93.5 276.53L94 275.72L94.5 274.96L95 274.26L95.5 273.65L96 273.16L96.5 272.79L97 272.44L97.5 272.11L98 271.81L98.5 271.56L99 271.37L99.5 271.24L100 271.2L100.5 271.68L101 272.94L101.5 274.7L102 276.71L102.5 278.7L103 280.92L103.5 283.54L104 286.13L104.5 288.36L105 290.53L105.5 292.53L106 294.07L106.5 295.03L107 295.83L107.5 296.55L108 297.17L108.5 297.7L109 298.13L109.5 298.46L110 298.7L110.5 298.88L111 299.05L111.5 299.19L112 299.3L112.5 299.37L113 299.4L113.5 299.4L114 299.39L114.5 299.38L115 299.36L115.5 299.34L116 299.31L116.5 299.26L117 299.13L117.5 298.93L118 298.69L118.5 298.42L119 298.15L119.5 297.9L120 297.65L120.5 297.38L121 297.09L121.5 296.79L122 296.47L122.5 296.13L123 295.74L123.5 295.3L124 294.84L124.5 294.37L125 293.92L125.5 293.5L126 293.09L126.5 292.67L127 292.26L127.5 291.89L128 291.58L128.5 291.36L129 291.17L129.5 290.99L130 290.82L130.5 290.67L131 290.53L131.5 290.41L132 290.31L132.5 290.24L133 290.21L133.5 290.2L134 290.21L134.5 290.23L135 290.25L135.5 290.29L136 290.32L136.5 290.37L137 290.41L137.5 290.48L138 290.57L138.5 290.69L139 290.82L139.5 290.95L140 291.08L140.5 291.2L141 291.31L141.5 291.43L142 291.56L142.5 291.67L143 291.79L143.5 291.89L144 291.98L144.5 292.06L145 292.14L145.5 292.21L146 292.27L146.5 292.34L147 292.4L147.5 292.45L148 292.51L148.5 292.56L149 292.61L149.5 292.66L150 292.71L150.5 292.76L151 292.8L151.5 292.84L152 292.89L152.5 292.92L153 292.96L153.5 292.99L154 293.02L154.5 293.04L155 293.07L155.5 293.1L156 293.13L156.5 293.15L157 293.17L157.5 293.18L158 293.2L158.5 293.2L159 293.2L159.5 293.2L160 293.2L160.5 293.2L161 293.2L161.5 293.2L162 293.2L162.5 293.2L163 293.2L163.5 293.2L164 293.2L164.5 293.2L165 293.2L165.5 293.2L166 293.2L166.5 293.2L167 293.2L167.5 293.2L168 293.2L168.5 293.2L169 293.2L169.5 293.2L170 293.2L170.5 293.2L171 293.2L171.5 293.2L172 293.2L172.5 293.2L173 293.2L173.5 293.2L174 293.2L174.5 293.2L175 293.2L175.5 293.2L176 293.2L176.5 293.2L177 293.2L177.5 293.2L178 293.2L178.5 293.2L179 293.2L179.5 293.2L180 293.2L180.5 293.2L181 293.2L181.5 293.2L182 293.2L182.5 293.2L183 293.2L183.5 293.2L184 293.2L184.5 293.2L185 293.2L185.5 293.2L186 293.2L186.5 293.2L187 293.2L187.5 293.2L188 293.2L188.5 293.2L189 293.2L189.5 293.2L190 293.2L190.5 293.2L191 293.2L191.5 293.2L192 293.2L192.5 293.2L193 293.2L193.5 293.2L194 293.2L194.5 293.2L195 293.2L195.5 293.2L196 293.2L196.5 293.2L197 293.2L197.5 293.2L198 293.2L198.5 293.2L199 293.2L199.5 293.2L200 293.2L200.5 293.2L201 293.2L201.5 293.2L202 293.2L202.5 293.2L203 293.2L203.5 293.2L204 293.2L204.5 293.2L205 293.2L205.5 293.2L206 293.2L206.5 293.2L207 293.2L207.5 293.2L208 293.2L208.5 293.2L209 293.2L209.5 293.2L210 293.2L210.5 293.2L211 293.2L211.5 293.2L212 293.2L212.5 293.2L213 293.2L213.5 293.2L214 293.2L214.5 293.2L215 293.2L215.5 293.2L216 293.2L216.5 293.2L217 293.2L217.5 293.2L218 293.2L218.5 293.2L219 293.2L219.5 293.2L220 293.2L220.5 293.2L221 293.2L221.5 293.2L222 293.2L222.5 293.2L223 293.2L223.5 293.2L224 293.2L224.5 293.2L225 293.2L225.5 293.2L226 293.2L226.5 293.2L227 293.2L227.5 293.2L228 293.2L228.5 293.2L229 293.2L229.5 293.2L230 293.2L230.5 293.2L231 293.2L231.5 293.2L232 293.2L232.5 293.2L233 293.2L233.5 293.2L234 293.2L234.5 293.2L235 293.2L235.5 293.2L236 293.2L236.5 293.2L237 293.2L237.5 293.2L238 293.2L238.5 293.2L239 293.2L239.5 293.2L240 293.2L240.5 293.2L241 293.2L241.5 293.2L242 293.2L242.5 293.2L243 293.2L243.5 293.2L244 293.2L244.5 293.2L245 293.2L245.5 293.2L246 293.2L246.5 293.2L247 293.2L247.5 293.2L248 293.2L248.5 293.2L249 293.2L249.5 293.2L250 293.2L250.5 293.2L251 293.2L251.5 293.2L252 293.2L252.5 293.2L253 293.2L253.5 293.2L254 293.2L254.5 293.2L255 293.2L255.5 293.2L256 293.2L256.5 293.2L257 293.2L257.5 293.2L258 293.2L258.5 293.2L259 293.2L259.5 293.2L260 293.2L260.5 293.2L261 293.2L261.5 293.2L262 293.2L262.5 293.2L263 293.2L263.5 293.2L264 293.2L264.5 293.2L265 293.2L265.5 293.2L266 293.2L266.5 293.2L267 293.2L267.5 293.2L268 293.2L268.5 293.2L269 293.2L269.5 293.2L270 293.2L270.5 293.2L271 293.2L271.5 293.2L272 293.2L272.5 293.2L273 293.2L273.5 293.2L274 293.2L274.5 293.2L275 293.2L275.5 293.2L276 293.2L276.5 293.2L277 293.2L277.5 293.2L278 293.2L278.5 293.2L279 293.2L279.5 293.2L280 293.2L280.5 293.2L281 293.2L281.5 293.2L282 293.2L282.5 293.2L283 293.2L283.5 293.2L284 293.2L284.5 293.2L285 293.2L285.5 293.2L286 293.2L286.5 293.2L287 293.2L287.5 293.2L288 293.2L288.5 293.2L289 293.2L289.5 293.2L290 293.2L290.5 293.2L291 293.2L291.5 293.2L292 293.2L292.5 293.2L293 293.2L293.5 293.2L294 293.2L294.5 293.2L295 293.2L295.5 293.2L296 293.2L296.5 293.2L297 293.2L297.5 293.2L298 293.2L298.5 293.2L299 293.2L299.5 293.2L300 293.2L300.5 293.2L301 293.2L301.5 293.2L302 293.2L302.5 293.2L303 293.2L303.5 293.2L304 293.2L304.5 293.2L305 293.2L305.5 293.2L306 293.2L306.5 293.2L307 293.2L307.5 293.2L308 293.2L308.5 293.2L309 293.2L309.5 293.2L310 293.2L310.5 293.2L311 293.2L311.5 293.2L312 293.2L312.5 293.2L313 293.2L313.5 293.2L314 293.2L314.5 293.2L315 293.2L315.5 293.2L316 293.2L316.5 293.2L317 293.2L317.5 293.2L318 293.2L318.5 293.2L319 293.2L319.5 293.2L320 293.2L320.5 293.2L321 293.2L321.5 293.2L322 293.2L322.5 293.2L323 293.2L323.5 293.2L324 293.2L324.5 293.2L325 293.2L325.5 293.2L326 293.2L326.5 293.2L327 293.2L327.5 293.2L328 293.2L328.5 293.2L329 293.2L329.5 293.2L330 293.2L330.5 293.2L331 293.2L331.5 293.2L332 293.2L332.5 293.2L333 293.2L333.5 293.2L334 293.2L334.5 293.2L335 293.2L335.5 293.2L336 293.2L336.5 293.2L337 293.2L337.5 293.2L338 293.2L338.5 293.2L339 293.2L339.5 293.2L340 293.2L340.5 293.2L341 293.2L341.5 293.2L342 293.2L342.5 293.2L343 293.2L343.5 293.2L344 293.2L344.5 293.2L345 293.2L345.5 293.2L346 293.2L346.5 293.2L347 293.2L347.5 293.2L348 293.2L348.5 293.2L349 293.2L349.5 293.2L350 293.2L350.5 293.2L351 293.2L351.5 293.2L352 293.2L352.5 293.2L353 293.2L353.5 293.2L354 293.2L354.5 293.2L355 293.2L355.5 293.2L356 293.2L356.5 293.2L357 293.2L357.5 293.2L358 293.2L358.5 293.2L359 293.2L359.5 293.2L360 293.2L360.5 293.2L361 293.2L361.5 293.2L362 293.2L362.5 293.2L363 293.2L363.5 293.2L364 293.2L364.5 293.2L365 293.2L365.5 293.2L366 293.2L366.5 293.2L367 293.2L367.5 293.2L368 293.2L368.5 293.2L369 293.2L369.5 293.2L370 293.2L370.5 293.2L371 293.2L371.5 293.2L372 293.2L372.5 293.2L373 293.2L373.5 293.2L374 293.2L374.5 293.2L375 293.2L375.5 293.2L376 293.2L376.5 293.2L377 293.2L377.5 293.2L378 293.2L378.5 293.2L379 293.2L379.5 293.2L380 293.2L380.5 293.2L381 293.2L381.5 293.2L382 293.2L382.5 293.2L383 293.2L383.5 293.2L384 293.2L384.5 293.2L385 293.2L385.5 293.2L386 293.2L386.5 293.2L387 293.2L387.5 293.2L388 293.2L388.5 293.2L389 293.2L389.5 293.2L390 293.2L390.5 293.2L391 293.2L391.5 293.2L392 293.2L392.5 293.2L393 293.2L393.5 293.2L394 293.2L394.5 293.2L395 293.2L395.5 293.2L396 293.2L396.5 293.2L397 293.2L397.5 293.2L398 293.2L398.5 293.2L399 293.2L399.5 293.2L400 293.2L400.5 293.2L401 293.2L401.5 293.2L402 293.2L402.5 293.2L403 293.2L403.5 293.2L404 293.2L404.5 293.2L405 293.2L405.5 293.2L406 293.2L406.5 293.2L407 293.2L407.5 293.2L408 293.2L408.5 293.2L409 293.2L409.5 293.2L410 293.2L410.5 293.2L411 293.2L411.5 293.2L412 293.2L412.5 293.2L413 293.2L413.5 293.2L414 293.2L414.5 293.2L415 293.2L415.5 293.2L416 293.2L416.5 293.2L417 293.2L417.5 293.2L418 293.2L418.5 293.2L419 293.2L419.5 293.2L420 293.2L420.5 293.2L421 293.2L421.5 293.2L422 293.2L422.5 293.2L423 293.2L423.5 293.2L424 293.2L424.5 293.2L425 293.2L425.5 293.2L426 293.2L426.5 293.2L427 293.2L427.5 293.2L428 293.2L428.5 293.2L429 293.2L429.5 293.2L430 293.2L430.5 293.2L431 293.2L431.5 293.2L432 293.2L432.5 293.2L433 293.2L433.5 293.2L434 293.2L434.5 293.2L435 293.2L435.5 293.2L436 293.2L436.5 293.2L437 293.2L437.5 293.2L438 293.2L438.5 293.2L439 293.2L439.5 293.2L440 293.2L440.5 293.2L441 293.2L441.5 293.2L442 293.2L442.5 293.2L443 293.2L443.5 293.2L444 293.2L444.5 293.2L445 293.2L445.5 293.2L446 293.2L446.5 293.2L447 293.2L447.5 293.2L448 293.2L448.5 293.2L449 293.2L449.5 293.2L450 293.2L450.5 293.2L451 293.2L451.5 293.2L452 293.2L452.5 293.2L453 293.2L453.5 293.2L454 293.2L454.5 293.2L455 293.2L455.5 293.2L456 293.2L456.5 293.2L457 293.2L457.5 293.2L458 293.2L458.5 293.2L459 293.2L459.5 293.2L460 293.2L460.5 293.2L461 293.2L461.5 293.2L462 293.2L462.5 293.2L463 293.2L463.5 293.2L464 293.2L464.5 293.2L465 293.2L465.5 293.2L466 293.2L466.5 293.2L467 293.2L467.5 293.2L468 293.2L468.5 293.2L469 293.2L469.5 293.2L470 293.2L470.5 293.2L471 293.2L471.5 293.2L472 293.2L472.5 293.2L473 293.2L473.5 293.2L474 293.2L474.5 293.2L475 293.2L475.5 293.2L476 293.2L476.5 293.2L477 293.2L477.5 293.2L478 293.2L478.5 293.2L479 293.2L479.5 293.2L480 293.2L480.5 293.2L481 293.2L481.5 293.2L482 293.2L482.5 293.2L483 293.2L483.5 293.2L484 293.2L484.5 293.2L485 293.2L485.5 293.2L486 293.2L486.5 293.2L487 293.2L487.5 293.2L488 293.2L488.5 293.2L489 293.2L489.5 293.2L490 293.2L490.5 293.2L491 293.2L491.5 293.2L492 293.2L492.5 293.2L493 293.2L493.5 293.2L494 293.2L494.5 293.2L495 293.2L495.2 293.2" fill="none" stroke="#bebebe" stroke-width="1.6" stroke-linejoin="round"/>
<path d="M87.35 304.25 v9.5 L77.65 309z" fill="none" stroke="#bebebe" stroke-width="1.5" stroke-miterlimit="10"/><path d="M90.35 293.25 v9.5 L80.65 298z" fill="none" stroke="#bebebe" stroke-width="1.5" stroke-miterlimit="10"/><path d="M93.55 284.25 v9.5 L83.85 289z" fill="none" stroke="#bebebe" stroke-width="1.5" stroke-miterlimit="10"/><path d="M96.05 276.75 v9.5 L86.35 281.5z" fill="none" stroke="#bebebe" stroke-width="1.5" stroke-miterlimit="10"/><path d="M98.55 271.45 v9.5 L88.85 276.2z" fill="none" stroke="#bebebe" stroke-width="1.5" stroke-miterlimit="10"/><path d="M101.05 268.25 v9.5 L91.35 273z" fill="none" stroke="#bebebe" stroke-width="1.5" stroke-miterlimit="10"/><path d="M104.85 266.45 v9.5 L95.15 271.2z" fill="none" stroke="#bebebe" stroke-width="1.5" stroke-miterlimit="10"/><path d="M107.35 273.95 v9.5 L97.65 278.7z" fill="none" stroke="#bebebe" stroke-width="1.5" stroke-miterlimit="10"/><path d="M109.15 282.75 v9.5 L99.45 287.5z" fill="none" stroke="#bebebe" stroke-width="1.5" stroke-miterlimit="10"/><path d="M111.05 289.75 v9.5 L101.35 294.5z" fill="none" stroke="#bebebe" stroke-width="1.5" stroke-miterlimit="10"/><path d="M114.85 293.95 v9.5 L105.15 298.7z" fill="none" stroke="#bebebe" stroke-width="1.5" stroke-miterlimit="10"/><path d="M117.85 294.65 v9.5 L108.15 299.4z" fill="none" stroke="#bebebe" stroke-width="1.5" stroke-miterlimit="10"/><path d="M121.05 294.55 v9.5 L111.35 299.3z" fill="none" stroke="#bebebe" stroke-width="1.5" stroke-miterlimit="10"/><path d="M124.15 293.25 v9.5 L114.45 298z" fill="none" stroke="#bebebe" stroke-width="1.5" stroke-miterlimit="10"/><path d="M127.25 291.45 v9.5 L117.55 296.2z" fill="none" stroke="#bebebe" stroke-width="1.5" stroke-miterlimit="10"/><path d="M130.35 288.75 v9.5 L120.65 293.5z" fill="none" stroke="#bebebe" stroke-width="1.5" stroke-miterlimit="10"/><path d="M133.25 286.65 v9.5 L123.55 291.4z" fill="none" stroke="#bebebe" stroke-width="1.5" stroke-miterlimit="10"/><path d="M138.15 285.45 v9.5 L128.45 290.2z" fill="none" stroke="#bebebe" stroke-width="1.5" stroke-miterlimit="10"/><path d="M141.75 285.65 v9.5 L132.05 290.4z" fill="none" stroke="#bebebe" stroke-width="1.5" stroke-miterlimit="10"/><path d="M145.35 286.45 v9.5 L135.65 291.2z" fill="none" stroke="#bebebe" stroke-width="1.5" stroke-miterlimit="10"/><path d="M148.95 287.25 v9.5 L139.25 292z" fill="none" stroke="#bebebe" stroke-width="1.5" stroke-miterlimit="10"/><path d="M153.75 287.85 v9.5 L144.05 292.6z" fill="none" stroke="#bebebe" stroke-width="1.5" stroke-miterlimit="10"/><path d="M158.55 288.25 v9.5 L148.85 293z" fill="none" stroke="#bebebe" stroke-width="1.5" stroke-miterlimit="10"/><path d="M163.45 288.45 v9.5 L153.75 293.2z" fill="none" stroke="#bebebe" stroke-width="1.5" stroke-miterlimit="10"/><path d="M167.75 288.45 v9.5 L158.05 293.2z" fill="none" stroke="#bebebe" stroke-width="1.5" stroke-miterlimit="10"/><path d="M173.05 288.45 v9.5 L163.35 293.2z" fill="none" stroke="#bebebe" stroke-width="1.5" stroke-miterlimit="10"/><path d="M179.05 288.45 v9.5 L169.35 293.2z" fill="none" stroke="#bebebe" stroke-width="1.5" stroke-miterlimit="10"/><path d="M183.85 288.45 v9.5 L174.15 293.2z" fill="none" stroke="#bebebe" stroke-width="1.5" stroke-miterlimit="10"/><path d="M189.45 288.45 v9.5 L179.75 293.2z" fill="none" stroke="#bebebe" stroke-width="1.5" stroke-miterlimit="10"/><path d="M202.45 288.45 v9.5 L192.75 293.2z" fill="none" stroke="#bebebe" stroke-width="1.5" stroke-miterlimit="10"/><path d="M216.45 288.45 v9.5 L206.75 293.2z" fill="none" stroke="#bebebe" stroke-width="1.5" stroke-miterlimit="10"/><path d="M233.25 288.45 v9.5 L223.55 293.2z" fill="none" stroke="#bebebe" stroke-width="1.5" stroke-miterlimit="10"/><path d="M252.05 288.45 v9.5 L242.35 293.2z" fill="none" stroke="#bebebe" stroke-width="1.5" stroke-miterlimit="10"/><path d="M274.75 288.45 v9.5 L265.05 293.2z" fill="none" stroke="#bebebe" stroke-width="1.5" stroke-miterlimit="10"/><path d="M299.55 288.45 v9.5 L289.85 293.2z" fill="none" stroke="#bebebe" stroke-width="1.5" stroke-miterlimit="10"/><path d="M371.25 288.45 v9.5 L361.55 293.2z" fill="none" stroke="#bebebe" stroke-width="1.5" stroke-miterlimit="10"/>
<path d="M78 323L78.5 320.1L79 317.42L79.5 315L80 312.65L80.5 310.48L81 309L81.5 308.06L82 307.26L82.5 306.71L83 306.5L83.5 306.77L84 307.43L84.5 308.25L85 309L85.5 309.75L86 310.62L86.5 311.45L87 312.06L87.5 312.3L88 312.3L88.5 312.29L89 312.27L89.5 312.26L90 312.23L90.5 312.21L91 312.15L91.5 312.04L92 311.88L92.5 311.7L93 311.51L93.5 311.34L94 311.2L94.5 311.07L95 310.94L95.5 310.81L96 310.7L96.5 310.63L97 310.6L97.5 310.6L98 310.61L98.5 310.62L99 310.63L99.5 310.65L100 310.66L100.5 310.68L101 310.69L101.5 310.71L102 310.73L102.5 310.74L103 310.76L103.5 310.79L104 310.81L104.5 310.83L105 310.85L105.5 310.88L106 310.9L106.5 310.92L107 310.94L107.5 310.96L108 310.97L108.5 310.98L109 310.99L109.5 311L110 311L110.5 311L111 311L111.5 311L112 311L112.5 311L113 311L113.5 311L114 311L114.5 311L115 311L115.5 311L116 311L116.5 311L117 311L117.5 311L118 311L118.5 311L119 311L119.5 311L120 311L120.5 311L121 311L121.5 311L122 311L122.5 311L123 311L123.5 311L124 311L124.5 311L125 311L125.5 311L126 311L126.5 311L127 311L127.5 311L128 311L128.5 311L129 311L129.5 311L130 311L130.5 311L131 311L131.5 311L132 311L132.5 311L133 311L133.5 311L134 311L134.5 311L135 311L135.5 311L136 311L136.5 311L137 311L137.5 311L138 311L138.5 311L139 311L139.5 311L140 311L140.5 311L141 311L141.5 311L142 311L142.5 311L143 311L143.5 311L144 311L144.5 311L145 311L145.5 311L146 311L146.5 311L147 311L147.5 311L148 311L148.5 311L149 311L149.5 311L150 311L150.5 311L151 311L151.5 311L152 311L152.5 311L153 311L153.5 311L154 311L154.5 311L155 311L155.5 311L156 311L156.5 311L157 311L157.5 311L158 311L158.5 311L159 311L159.5 311L160 311L160.5 311L161 311L161.5 311L162 311L162.5 311L163 311L163.5 311L164 311L164.5 311L165 311L165.5 311L166 311L166.5 311L167 311L167.5 311L168 311L168.5 311L169 311L169.5 311L170 311L170.5 311L171 311L171.5 311L172 311L172.5 311L173 311L173.5 311L174 311L174.5 311L175 311L175.5 311L176 311L176.5 311L177 311L177.5 311L178 311L178.5 311L179 311L179.5 311L180 311L180.5 311L181 311L181.5 311L182 311L182.5 311L183 311L183.5 311L184 311L184.5 311L185 311L185.5 311L186 311L186.5 311L187 311L187.5 311L188 311L188.5 311L189 311L189.5 311L190 311L190.5 311L191 311L191.5 311L192 311L192.5 311L193 311L193.5 311L194 311L194.5 311L195 311L195.5 311L196 311L196.5 311L197 311L197.5 311L198 311L198.5 311L199 311L199.5 311L200 311L200.5 311L201 311L201.5 311L202 311L202.5 311L203 311L203.5 311L204 311L204.5 311L205 311L205.5 311L206 311L206.5 311L207 311L207.5 311L208 311L208.5 311L209 311L209.5 311L210 311L210.5 311L211 311L211.5 311L212 311L212.5 311L213 311L213.5 311L214 311L214.5 311L215 311L215.5 311L216 311L216.5 311L217 311L217.5 311L218 311L218.5 311L219 311L219.5 311L220 311L220.5 311L221 311L221.5 311L222 311L222.5 311L223 311L223.5 311L224 311L224.5 311L225 311L225.5 311L226 311L226.5 311L227 311L227.5 311L228 311L228.5 311L229 311L229.5 311L230 311L230.5 311L231 311L231.5 311L232 311L232.5 311L233 311L233.5 311L234 311L234.5 311L235 311L235.5 311L236 311L236.5 311L237 311L237.5 311L238 311L238.5 311L239 311L239.5 311L240 311L240.5 311L241 311L241.5 311L242 311L242.5 311L243 311L243.5 311L244 311L244.5 311L245 311L245.5 311L246 311L246.5 311L247 311L247.5 311L248 311L248.5 311L249 311L249.5 311L250 311L250.5 311L251 311L251.5 311L252 311L252.5 311L253 311L253.5 311L254 311L254.5 311L255 311L255.5 311L256 311L256.5 311L257 311L257.5 311L258 311L258.5 311L259 311L259.5 311L260 311L260.5 311L261 311L261.5 311L262 311L262.5 311L263 311L263.5 311L264 311L264.5 311L265 311L265.5 311L266 311L266.5 311L267 311L267.5 311L268 311L268.5 311L269 311L269.5 311L270 311L270.5 311L271 311L271.5 311L272 311L272.5 311L273 311L273.5 311L274 311L274.5 311L275 311L275.5 311L276 311L276.5 311L277 311L277.5 311L278 311L278.5 311L279 311L279.5 311L280 311L280.5 311L281 311L281.5 311L282 311L282.5 311L283 311L283.5 311L284 311L284.5 311L285 311L285.5 311L286 311L286.5 311L287 311L287.5 311L288 311L288.5 311L289 311L289.5 311L290 311L290.5 311L291 311L291.5 311L292 311L292.5 311L293 311L293.5 311L294 311L294.5 311L295 311L295.5 311L296 311L296.5 311L297 311L297.5 311L298 311L298.5 311L299 311L299.5 311L300 311L300.5 311L301 311L301.5 311L302 311L302.5 311L303 311L303.5 311L304 311L304.5 311L305 311L305.5 311L306 311L306.5 311L307 311L307.5 311L308 311L308.5 311L309 311L309.5 311L310 311L310.5 311L311 311L311.5 311L312 311L312.5 311L313 311L313.5 311L314 311L314.5 311L315 311L315.5 311L316 311L316.5 311L317 311L317.5 311L318 311L318.5 311L319 311L319.5 311L320 311L320.5 311L321 311L321.5 311L322 311L322.5 311L323 311L323.5 311L324 311L324.5 311L325 311L325.5 311L326 311L326.5 311L327 311L327.5 311L328 311L328.5 311L329 311L329.5 311L330 311L330.5 311L331 311L331.5 311L332 311L332.5 311L333 311L333.5 311L334 311L334.5 311L335 311L335.5 311L336 311L336.5 311L337 311L337.5 311L338 311L338.5 311L339 311L339.5 311L340 311L340.5 311L341 311L341.5 311L342 311L342.5 311L343 311L343.5 311L344 311L344.5 311L345 311L345.5 311L346 311L346.5 311L347 311L347.5 311L348 311L348.5 311L349 311L349.5 311L350 311L350.5 311L351 311L351.5 311L352 311L352.5 311L353 311L353.5 311L354 311L354.5 311L355 311L355.5 311L356 311L356.5 311L357 311L357.5 311L358 311L358.5 311L359 311L359.5 311L360 311L360.5 311L361 311L361.5 311L362 311L362.5 311L363 311L363.5 311L364 311L364.5 311L365 311L365.5 311L366 311L366.5 311L367 311L367.5 311L368 311L368.5 311L369 311L369.5 311L370 311L370.5 311L371 311L371.5 311L372 311L372.5 311L373 311L373.5 311L374 311L374.5 311L375 311L375.5 311L376 311L376.5 311L377 311L377.5 311L378 311L378.5 311L379 311L379.5 311L380 311L380.5 311L381 311L381.5 311L382 311L382.5 311L383 311L383.5 311L384 311L384.5 311L385 311L385.5 311L386 311L386.5 311L387 311L387.5 311L388 311L388.5 311L389 311L389.5 311L390 311L390.5 311L391 311L391.5 311L392 311L392.5 311L393 311L393.5 311L394 311L394.5 311L395 311L395.5 311L396 311L396.5 311L397 311L397.5 311L398 311L398.5 311L399 311L399.5 311L400 311L400.5 311L401 311L401.5 311L402 311L402.5 311L403 311L403.5 311L404 311L404.5 311L405 311L405.5 311L406 311L406.5 311L407 311L407.5 311L408 311L408.5 311L409 311L409.5 311L410 311L410.5 311L411 311L411.5 311L412 311L412.5 311L413 311L413.5 311L414 311L414.5 311L415 311L415.5 311L416 311L416.5 311L417 311L417.5 311L418 311L418.5 311L419 311L419.5 311L420 311L420.5 311L421 311L421.5 311L422 311L422.5 311L423 311L423.5 311L424 311L424.5 311L425 311L425.5 311L426 311L426.5 311L427 311L427.5 311L428 311L428.5 311L429 311L429.5 311L430 311L430.5 311L431 311L431.5 311L432 311L432.5 311L433 311L433.5 311L434 311L434.5 311L435 311L435.5 311L436 311L436.5 311L437 311L437.5 311L438 311L438.5 311L439 311L439.5 311L440 311L440.5 311L441 311L441.5 311L442 311L442.5 311L443 311L443.5 311L444 311L444.5 311L445 311L445.5 311L446 311L446.5 311L447 311L447.5 311L448 311L448.5 311L449 311L449.5 311L450 311L450.5 311L451 311L451.5 311L452 311L452.5 311L453 311L453.5 311L454 311L454.5 311L455 311L455.5 311L456 311L456.5 311L457 311L457.5 311L458 311L458.5 311L459 311L459.5 311L460 311L460.5 311L461 311L461.5 311L462 311L462.5 311L463 311L463.5 311L464 311L464.5 311L465 311L465.5 311L466 311L466.5 311L467 311L467.5 311L468 311L468.5 311L469 311L469.5 311L470 311L470.5 311L471 311L471.5 311L472 311L472.5 311L473 311L473.5 311L474 311L474.5 311L475 311L475.5 311L476 311L476.5 311L477 311L477.5 311L478 311L478.5 311L479 311L479.5 311L480 311L480.5 311L481 311L481.5 311L482 311L482.5 311L483 311L483.5 311L484 311L484.5 311L485 311L485.5 311L486 311L486.5 311L487 311L487.5 311L488 311L488.5 311L489 311L489.5 311L490 311L490.5 311L491 311L491.5 311L492 311L492.5 311L493 311L493.5 311L494 311L494.5 311L495 311L495.2 311" fill="none" stroke="#808000" stroke-width="1.6" stroke-linejoin="round"/>
<path d="M79.45 305.25 v9.5 L89.15 310z" fill="none" stroke="#808000" stroke-width="1.5" stroke-miterlimit="10"/><path d="M86.35 307.45 v9.5 L96.05 312.2z" fill="none" stroke="#808000" stroke-width="1.5" stroke-miterlimit="10"/><path d="M96.95 305.95 v9.5 L106.65 310.7z" fill="none" stroke="#808000" stroke-width="1.5" stroke-miterlimit="10"/><path d="M114.05 306.25 v9.5 L123.75 311z" fill="none" stroke="#808000" stroke-width="1.5" stroke-miterlimit="10"/><path d="M134.05 306.25 v9.5 L143.75 311z" fill="none" stroke="#808000" stroke-width="1.5" stroke-miterlimit="10"/><path d="M160.65 306.25 v9.5 L170.35 311z" fill="none" stroke="#808000" stroke-width="1.5" stroke-miterlimit="10"/><path d="M195.05 306.25 v9.5 L204.75 311z" fill="none" stroke="#808000" stroke-width="1.5" stroke-miterlimit="10"/><path d="M226.45 306.25 v9.5 L236.15 311z" fill="none" stroke="#808000" stroke-width="1.5" stroke-miterlimit="10"/><path d="M260.65 306.25 v9.5 L270.35 311z" fill="none" stroke="#808000" stroke-width="1.5" stroke-miterlimit="10"/><path d="M293.85 306.25 v9.5 L303.55 311z" fill="none" stroke="#808000" stroke-width="1.5" stroke-miterlimit="10"/><path d="M326.25 306.25 v9.5 L335.95 311z" fill="none" stroke="#808000" stroke-width="1.5" stroke-miterlimit="10"/><path d="M358.95 306.25 v9.5 L368.65 311z" fill="none" stroke="#808000" stroke-width="1.5" stroke-miterlimit="10"/><path d="M391.95 306.25 v9.5 L401.65 311z" fill="none" stroke="#808000" stroke-width="1.5" stroke-miterlimit="10"/><path d="M424.65 306.25 v9.5 L434.35 311z" fill="none" stroke="#808000" stroke-width="1.5" stroke-miterlimit="10"/><path d="M455.45 306.25 v9.5 L465.15 311z" fill="none" stroke="#808000" stroke-width="1.5" stroke-miterlimit="10"/><path d="M488.45 306.25 v9.5 L498.15 311z" fill="none" stroke="#808000" stroke-width="1.5" stroke-miterlimit="10"/>
</g>
<g stroke="#000" stroke-width="1.9" fill="none" stroke-linecap="butt">
<rect x="78" y="70.3" width="666.5" height="499.2"/>
<path d="M78 70.3 v14.7 M78 569.5 v-14.7 M98.83 70.3 v8.5 M98.83 569.5 v-8.5 M119.66 70.3 v8.5 M119.66 569.5 v-8.5 M140.48 70.3 v8.5 M140.48 569.5 v-8.5 M161.31 70.3 v14.7 M161.31 569.5 v-14.7 M182.14 70.3 v8.5 M182.14 569.5 v-8.5 M202.97 70.3 v8.5 M202.97 569.5 v-8.5 M223.8 70.3 v8.5 M223.8 569.5 v-8.5 M244.62 70.3 v14.7 M244.62 569.5 v-14.7 M265.45 70.3 v8.5 M265.45 569.5 v-8.5 M286.28 70.3 v8.5 M286.28 569.5 v-8.5 M307.11 70.3 v8.5 M307.11 569.5 v-8.5 M327.94 70.3 v14.7 M327.94 569.5 v-14.7 M348.77 70.3 v8.5 M348.77 569.5 v-8.5 M369.59 70.3 v8.5 M369.59 569.5 v-8.5 M390.42 70.3 v8.5 M390.42 569.5 v-8.5 M411.25 70.3 v14.7 M411.25 569.5 v-14.7 M432.08 70.3 v8.5 M432.08 569.5 v-8.5 M452.91 70.3 v8.5 M452.91 569.5 v-8.5 M473.73 70.3 v8.5 M473.73 569.5 v-8.5 M494.56 70.3 v14.7 M494.56 569.5 v-14.7 M515.39 70.3 v8.5 M515.39 569.5 v-8.5 M536.22 70.3 v8.5 M536.22 569.5 v-8.5 M557.05 70.3 v8.5 M557.05 569.5 v-8.5 M577.88 70.3 v14.7 M577.88 569.5 v-14.7 M598.7 70.3 v8.5 M598.7 569.5 v-8.5 M619.53 70.3 v8.5 M619.53 569.5 v-8.5 M640.36 70.3 v8.5 M640.36 569.5 v-8.5 M661.19 70.3 v14.7 M661.19 569.5 v-14.7 M682.02 70.3 v8.5 M682.02 569.5 v-8.5 M702.84 70.3 v8.5 M702.84 569.5 v-8.5 M723.67 70.3 v8.5 M723.67 569.5 v-8.5 M744.5 70.3 v14.7 M744.5 569.5 v-14.7 M78 560.16 h8.5 M78 543 h14.7 M78 525.84 h8.5 M78 508.67 h8.5 M78 491.51 h8.5 M78 474.34 h8.5 M78 457.18 h14.7 M78 440.02 h8.5 M78 422.85 h8.5 M78 405.69 h8.5 M78 388.52 h8.5 M78 371.36 h14.7 M78 354.2 h8.5 M78 337.03 h8.5 M78 319.87 h8.5 M78 302.7 h8.5 M78 285.54 h14.7 M78 268.38 h8.5 M78 251.21 h8.5 M78 234.05 h8.5 M78 216.88 h8.5 M78 199.72 h14.7 M78 182.56 h8.5 M78 165.39 h8.5 M78 148.23 h8.5 M78 131.06 h8.5 M78 113.9 h14.7 M78 96.74 h8.5 M78 79.57 h8.5 M744.5 544.66 h-8.5 M744.5 519.7 h-14.7 M744.5 494.74 h-8.5 M744.5 469.77 h-8.5 M744.5 444.81 h-8.5 M744.5 419.85 h-14.7 M744.5 394.89 h-8.5 M744.5 369.93 h-8.5 M744.5 344.96 h-8.5 M744.5 320 h-14.7 M744.5 295.04 h-8.5 M744.5 270.07 h-8.5 M744.5 245.11 h-8.5 M744.5 220.15 h-14.7 M744.5 195.19 h-8.5 M744.5 170.22 h-8.5 M744.5 145.26 h-8.5 M744.5 120.3 h-14.7 M744.5 95.34 h-8.5" stroke-width="1.9"/>
</g>
<g font-family="Liberation Sans, sans-serif" fill="#000">
<text transform="translate(79.4 59.6) scale(0.95 1)" font-size="16.1" text-anchor="middle">0</text>
<text transform="translate(79.4 594.7) scale(0.95 1)" font-size="16.1" text-anchor="middle">0</text>
<text transform="translate(162.01 59.6) scale(0.95 1)" font-size="16.1" text-anchor="middle">0.2</text>
<text transform="translate(162.01 594.7) scale(0.95 1)" font-size="16.1" text-anchor="middle">0.2</text>
<text transform="translate(246.03 59.6) scale(0.95 1)" font-size="16.1" text-anchor="middle">0.4</text>
<text transform="translate(246.03 594.7) scale(0.95 1)" font-size="16.1" text-anchor="middle">0.4</text>
<text transform="translate(329.34 59.6) scale(0.95 1)" font-size="16.1" text-anchor="middle">0.6</text>
<text transform="translate(329.34 594.7) scale(0.95 1)" font-size="16.1" text-anchor="middle">0.6</text>
<text transform="translate(412.65 59.6) scale(0.95 1)" font-size="16.1" text-anchor="middle">0.8</text>
<text transform="translate(412.65 594.7) scale(0.95 1)" font-size="16.1" text-anchor="middle">0.8</text>
<text transform="translate(495.96 59.6) scale(0.95 1)" font-size="16.1" text-anchor="middle">1</text>
<text transform="translate(495.96 594.7) scale(0.95 1)" font-size="16.1" text-anchor="middle">1</text>
<text transform="translate(579.27 59.6) scale(0.95 1)" font-size="16.1" text-anchor="middle">1.2</text>
<text transform="translate(579.27 594.7) scale(0.95 1)" font-size="16.1" text-anchor="middle">1.2</text>
<text transform="translate(662.59 59.6) scale(0.95 1)" font-size="16.1" text-anchor="middle">1.4</text>
<text transform="translate(662.59 594.7) scale(0.95 1)" font-size="16.1" text-anchor="middle">1.4</text>
<text transform="translate(745.9 59.6) scale(0.95 1)" font-size="16.1" text-anchor="middle">1.6</text>
<text transform="translate(745.9 594.7) scale(0.95 1)" font-size="16.1" text-anchor="middle">1.6</text>
<text transform="translate(71.4 549.7) scale(0.9 1)" font-size="16.1" text-anchor="end">0</text>
<text transform="translate(71.4 463.88) scale(0.9 1)" font-size="16.1" text-anchor="end">100</text>
<text transform="translate(71.4 378.06) scale(0.9 1)" font-size="16.1" text-anchor="end">200</text>
<text transform="translate(71.4 292.24) scale(0.9 1)" font-size="16.1" text-anchor="end">300</text>
<text transform="translate(71.4 206.42) scale(0.9 1)" font-size="16.1" text-anchor="end">400</text>
<text transform="translate(71.4 120.6) scale(0.9 1)" font-size="16.1" text-anchor="end">500</text>
<text transform="translate(755.1 126.9) scale(0.93 1)" font-size="16.1">0.04</text>
<text transform="translate(755.1 226.75) scale(0.93 1)" font-size="16.1">0.02</text>
<text transform="translate(755.1 326.6) scale(0.93 1)" font-size="16.1">0</text>
<text transform="translate(755.1 426.45) scale(0.93 1)" font-size="16.1">−0.02</text>
<text transform="translate(755.1 526.3) scale(0.93 1)" font-size="16.1">−0.04</text>
<text transform="translate(38.3 318) rotate(-90) scale(0.98 1)" font-size="26.5" text-anchor="middle" font-weight="bold" stroke="#000" stroke-width="0.5">Re</text>
<text transform="translate(416.1 622.4) scale(1.12 1)" font-size="22.6" text-anchor="middle" font-weight="bold" stroke="#000" stroke-width="0.5">ζ</text>
<text transform="translate(821.3 343) rotate(-90) scale(1.26 1)" font-size="26" font-weight="bold" stroke="#000" stroke-width="0.5">θ</text>
<text transform="translate(824.1 327.6) rotate(-90) scale(1.07 1)" font-size="17" font-weight="bold" stroke="#000" stroke-width="0.3">Avg</text>
</g>
<rect x="658.4" y="146.9" width="53.2" height="58.7" fill="#fff" stroke="#000" stroke-width="1.6"/>
<text transform="translate(685 190.3)" font-size="35.8" text-anchor="middle" font-weight="bold" font-family="Liberation Sans, sans-serif" stroke="#000" stroke-width="0.8">a</text>
<rect x="507.2" y="344.7" width="214.3" height="192.3" fill="#fff" stroke="#000" stroke-width="1.6"/>
<g font-family="Liberation Sans, sans-serif" fill="#000" font-size="17.4">
<path d="M523.5 365.6 H585.9" stroke="#000" stroke-width="1.6"/>
<circle cx="554.7" cy="366.5" r="6.15" fill="#000"/>
<text x="600.51 612.38 622.73 628 634.15 648.68 655.87 668.13 678.61" y="372.6">Re, Gr=10<tspan font-size="14.0" x="689.17" dy="-5.8">5</tspan></text>
<path d="M523.5 387.5 H585.9" stroke="#f00" stroke-width="1.6"/>
<rect x="548.45" y="382" width="12.4" height="12.4" fill="#f00"/>
<text x="600.51 612.38 622.73 628 634.15 648.68 655.87 668.13 678.61" y="394.5">Re, Gr=10<tspan font-size="14.0" x="689.11" dy="-5.8">6</tspan></text>
<path d="M523.5 409.3 H585.9" stroke="#0f0" stroke-width="1.6"/>
<path d="M554 403.3 l5.5 5.9 l-5.5 5.9 l-5.5 -5.9z" fill="#0f0"/>
<text x="600.51 612.38 622.73 628 634.15 648.68 655.87 668.13 678.61" y="416.3">Re, Gr=10<tspan font-size="14.0" x="689.15" dy="-5.8">7</tspan></text>
<path d="M523.5 431 H585.9" stroke="#00f" stroke-width="1.6"/>
<path d="M554 425 l5.85 11.9 h-11.7z" fill="#00f"/>
<text x="600.51 612.38 622.73 628 634.15 648.68 655.87 668.13 678.61" y="438">Re, Gr=10<tspan font-size="14.0" x="689.16" dy="-5.8">8</tspan></text>
<path d="M523.5 452.8 H585.9" stroke="#0ff" stroke-width="1.6"/>
<path d="M549.25 447.95 h9.5 L554 457.35z" fill="none" stroke="#0ff" stroke-width="1.5" stroke-miterlimit="10"/>
<text y="459.8"><tspan x="601.41">θ</tspan><tspan font-size="12.4" x="611.6" dy="2.6">Avg</tspan><tspan x="632.28 638 644.75 659.18 665.72 677.68 688.01" dy="-2.6">, Gr=10</tspan><tspan font-size="14.0" x="698.42" dy="-5.8">5</tspan></text>
<path d="M523.5 474.6 H585.9" stroke="#f0f" stroke-width="1.6"/>
<path d="M549.25 479.45 h9.5 L554 470.05z" fill="none" stroke="#f0f" stroke-width="1.5" stroke-miterlimit="10"/>
<text y="481.6"><tspan x="601.41">θ</tspan><tspan font-size="12.4" x="611.6" dy="2.6">Avg</tspan><tspan x="632.28 638 644.75 659.18 665.72 677.68 688.01" dy="-2.6">, Gr=10</tspan><tspan font-size="14.0" x="698.36" dy="-5.8">6</tspan></text>
<path d="M523.5 496.5 H585.9" stroke="#bebebe" stroke-width="1.6"/>
<path d="M558.85 491.75 v9.5 L549.45 496.5z" fill="none" stroke="#bebebe" stroke-width="1.5" stroke-miterlimit="10"/>
<text y="503.5"><tspan x="601.41">θ</tspan><tspan font-size="12.4" x="611.6" dy="2.6">Avg</tspan><tspan x="632.28 638 644.75 659.18 665.72 677.68 688.01" dy="-2.6">, Gr=10</tspan><tspan font-size="14.0" x="698.4" dy="-5.8">7</tspan></text>
<path d="M523.5 518.2 H585.9" stroke="#808000" stroke-width="1.6"/>
<path d="M549.15 513.45 v9.5 L558.55 518.2z" fill="none" stroke="#808000" stroke-width="1.5" stroke-miterlimit="10"/>
<text y="525.2"><tspan x="601.41">θ</tspan><tspan font-size="12.4" x="611.6" dy="2.6">Avg</tspan><tspan x="632.28 638 644.75 659.18 665.72 677.68 688.01" dy="-2.6">, Gr=10</tspan><tspan font-size="14.0" x="698.41" dy="-5.8">8</tspan></text>
</g>
</svg>
</body></html>
